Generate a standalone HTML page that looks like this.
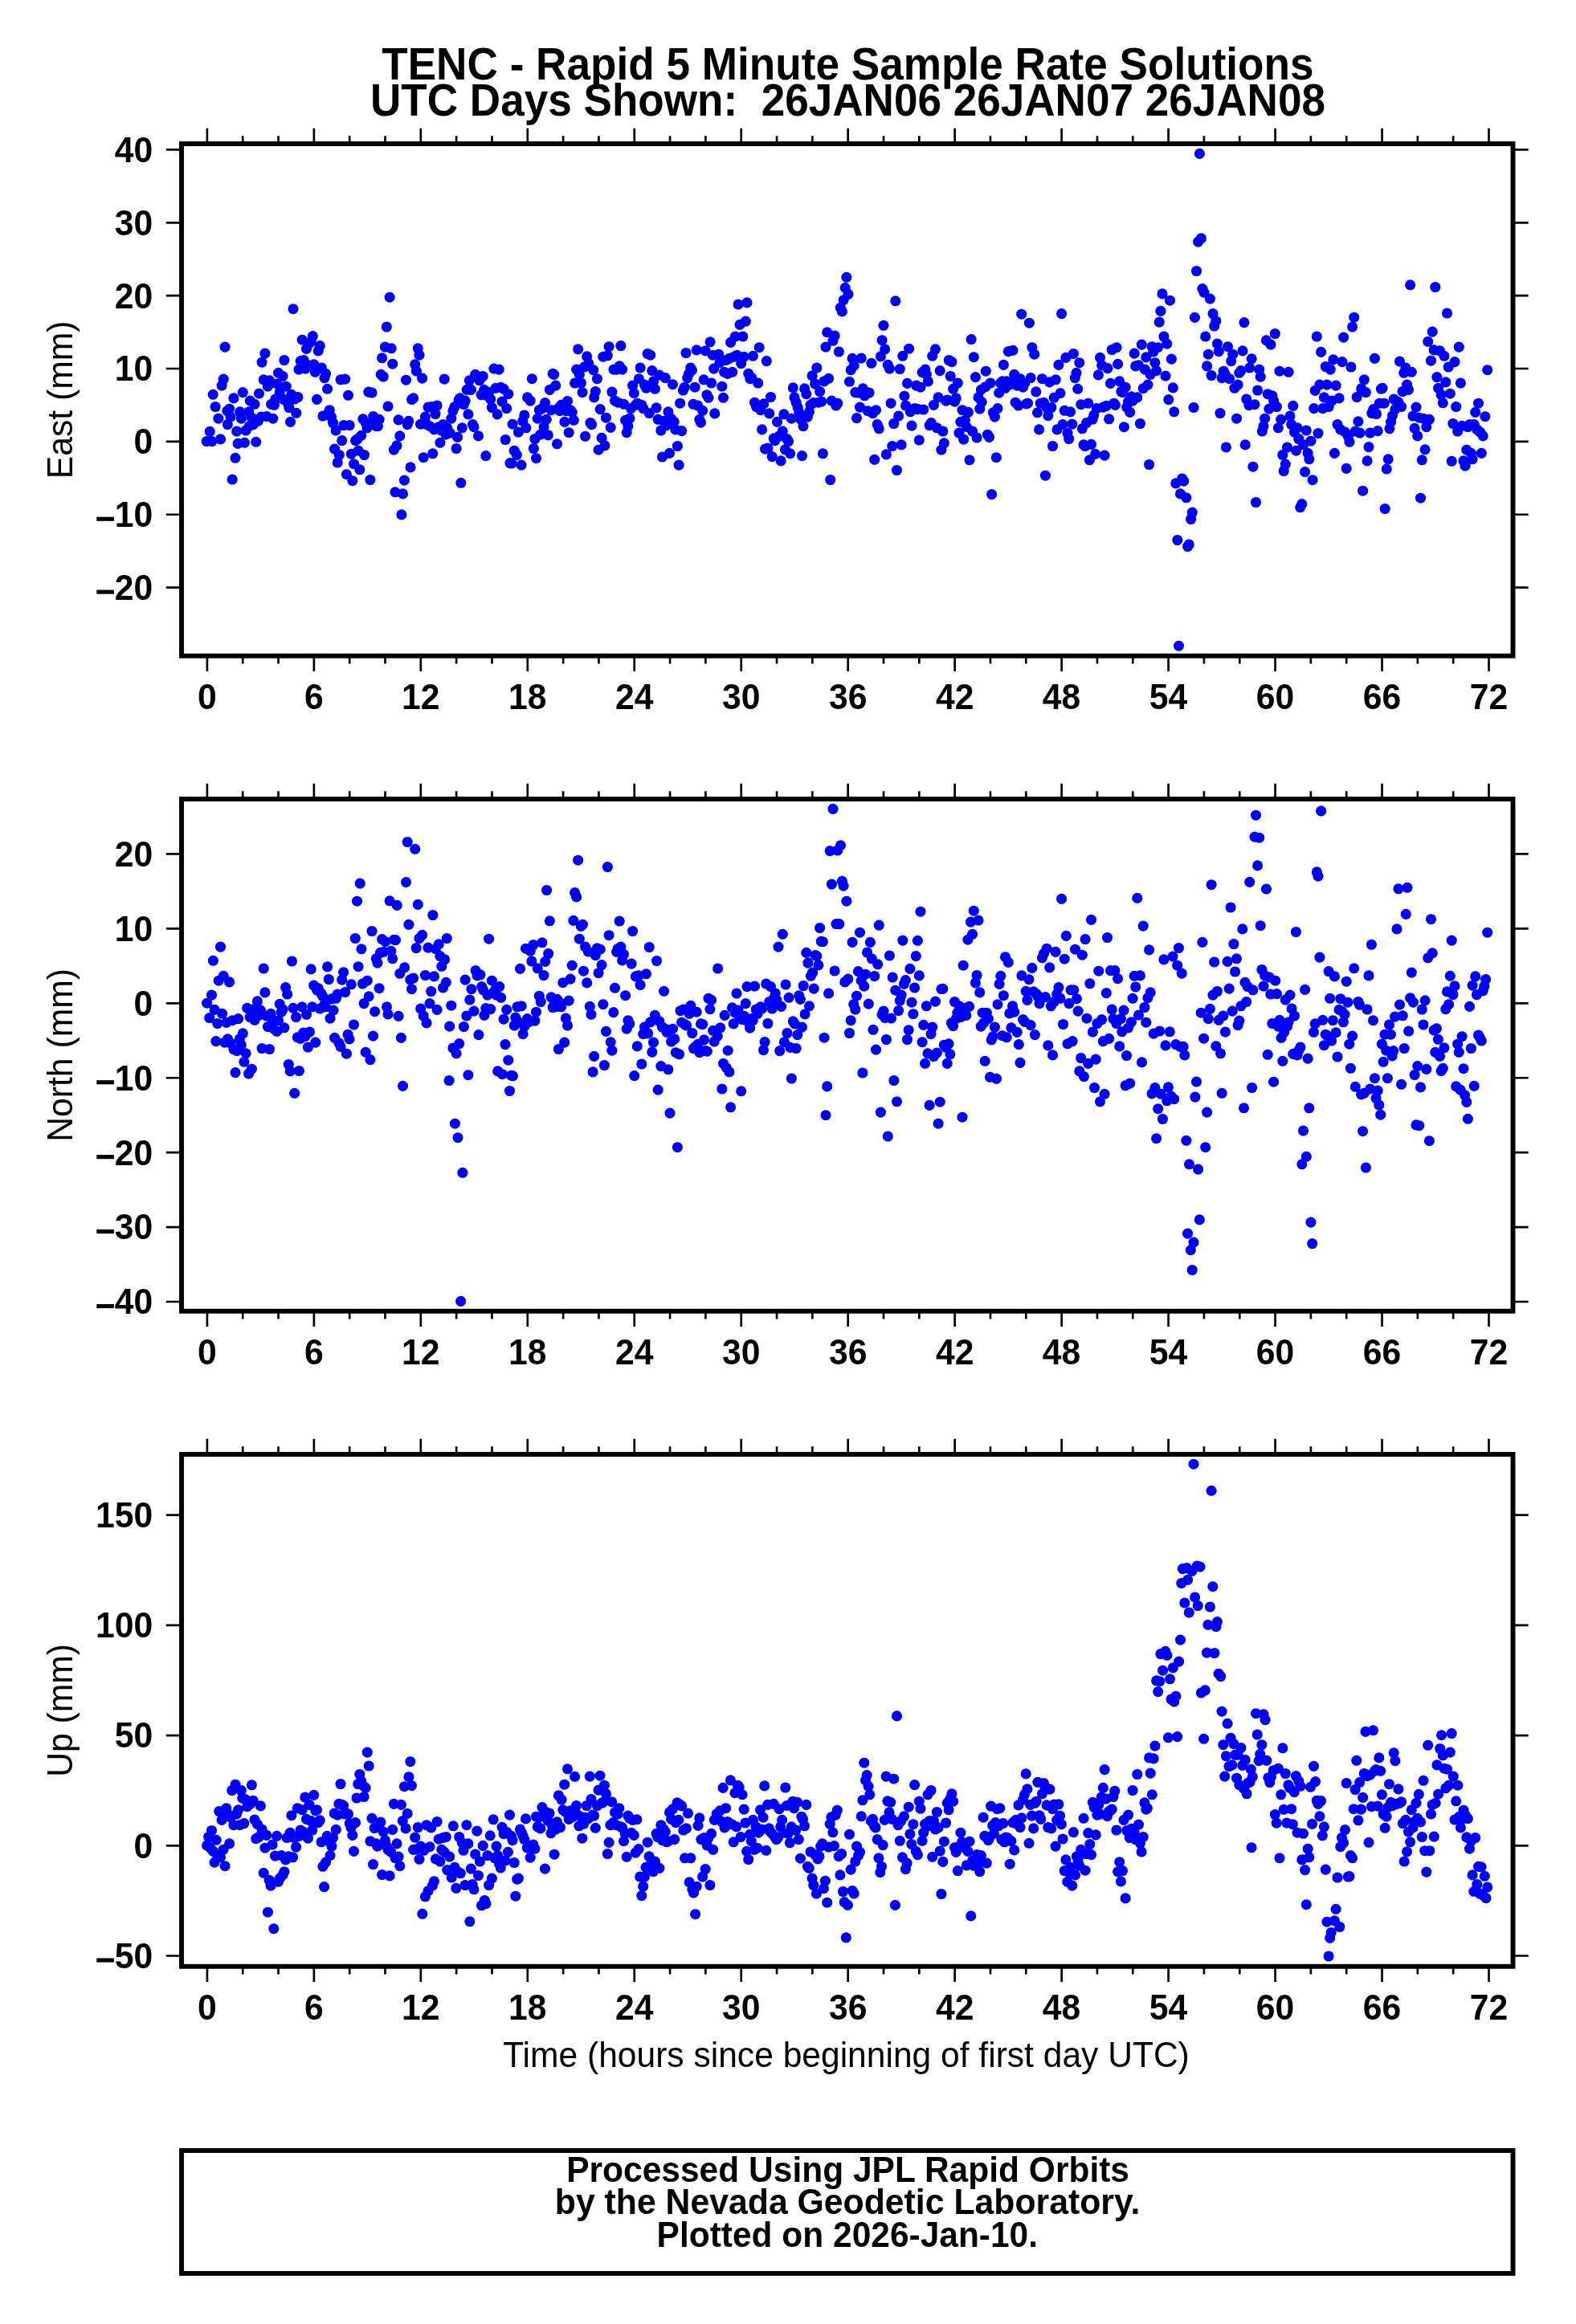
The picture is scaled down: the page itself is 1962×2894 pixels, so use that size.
<!DOCTYPE html><html><head><meta charset="utf-8"><title>TENC</title><style>html,body{margin:0;padding:0;background:#fff}svg{display:block}text{font-family:"Liberation Sans",sans-serif;fill:#000}.b{font-weight:bold}text{filter:grayscale(1)}</style></head><body>
<svg width="1962" height="2894" viewBox="0 0 1962 2894">
<rect width="1962" height="2894" fill="#fff"/>
<text class="b" text-rendering="geometricPrecision" transform="translate(1055.4 99) scale(1 1.062)" font-size="53.33" text-anchor="middle" textLength="1160.4" lengthAdjust="spacingAndGlyphs">TENC - Rapid 5 Minute Sample Rate Solutions</text>
<text class="b" text-rendering="geometricPrecision" transform="translate(1055.5 144.1) scale(1 1.062)" font-size="53.33" text-anchor="middle" textLength="1189" lengthAdjust="spacingAndGlyphs" xml:space="preserve">UTC Days Shown:  26JAN06 26JAN07 26JAN08</text>
<g fill="#0000ff">
<circle cx="257.2" cy="549.6" r="6.55"/>
<circle cx="263.9" cy="549.6" r="6.55"/>
<circle cx="261.2" cy="537.4" r="6.55"/>
<circle cx="274.5" cy="546.9" r="6.55"/>
<circle cx="265.2" cy="491.3" r="6.55"/>
<circle cx="268.1" cy="506.5" r="6.55"/>
<circle cx="271.9" cy="521.2" r="6.55"/>
<circle cx="276.1" cy="480.1" r="6.55"/>
<circle cx="278.2" cy="472.1" r="6.55"/>
<circle cx="280.1" cy="432.1" r="6.55"/>
<circle cx="282.9" cy="511.7" r="6.55"/>
<circle cx="285.6" cy="509.2" r="6.55"/>
<circle cx="287.1" cy="519.1" r="6.55"/>
<circle cx="283.3" cy="528.6" r="6.55"/>
<circle cx="289.2" cy="597.0" r="6.55"/>
<circle cx="293.0" cy="570.3" r="6.55"/>
<circle cx="294.7" cy="537.0" r="6.55"/>
<circle cx="290.9" cy="495.9" r="6.55"/>
<circle cx="296.1" cy="552.4" r="6.55"/>
<circle cx="304.4" cy="551.3" r="6.55"/>
<circle cx="298.7" cy="512.8" r="6.55"/>
<circle cx="300.4" cy="521.2" r="6.55"/>
<circle cx="302.3" cy="488.6" r="6.55"/>
<circle cx="306.1" cy="536.0" r="6.55"/>
<circle cx="309.8" cy="512.8" r="6.55"/>
<circle cx="311.3" cy="499.1" r="6.55"/>
<circle cx="317.0" cy="503.3" r="6.55"/>
<circle cx="313.4" cy="520.2" r="6.55"/>
<circle cx="310.3" cy="530.7" r="6.55"/>
<circle cx="315.5" cy="528.6" r="6.55"/>
<circle cx="318.7" cy="550.3" r="6.55"/>
<circle cx="321.2" cy="524.4" r="6.55"/>
<circle cx="322.5" cy="490.0" r="6.55"/>
<circle cx="325.0" cy="519.1" r="6.55"/>
<circle cx="326.1" cy="451.1" r="6.55"/>
<circle cx="328.2" cy="472.8" r="6.55"/>
<circle cx="329.9" cy="440.1" r="6.55"/>
<circle cx="332.0" cy="518.5" r="6.55"/>
<circle cx="333.4" cy="481.2" r="6.55"/>
<circle cx="335.5" cy="473.8" r="6.55"/>
<circle cx="337.6" cy="503.3" r="6.55"/>
<circle cx="339.8" cy="521.2" r="6.55"/>
<circle cx="341.4" cy="504.4" r="6.55"/>
<circle cx="342.9" cy="497.0" r="6.55"/>
<circle cx="345.0" cy="478.0" r="6.55"/>
<circle cx="346.5" cy="464.3" r="6.55"/>
<circle cx="348.2" cy="488.6" r="6.55"/>
<circle cx="350.3" cy="482.2" r="6.55"/>
<circle cx="352.0" cy="468.5" r="6.55"/>
<circle cx="352.4" cy="497.0" r="6.55"/>
<circle cx="353.9" cy="448.5" r="6.55"/>
<circle cx="356.2" cy="481.2" r="6.55"/>
<circle cx="357.7" cy="501.2" r="6.55"/>
<circle cx="359.8" cy="507.5" r="6.55"/>
<circle cx="361.5" cy="525.4" r="6.55"/>
<circle cx="362.9" cy="491.3" r="6.55"/>
<circle cx="365.0" cy="384.7" r="6.55"/>
<circle cx="366.7" cy="497.0" r="6.55"/>
<circle cx="368.8" cy="514.3" r="6.55"/>
<circle cx="370.9" cy="494.5" r="6.55"/>
<circle cx="372.0" cy="460.1" r="6.55"/>
<circle cx="374.1" cy="449.6" r="6.55"/>
<circle cx="376.2" cy="423.2" r="6.55"/>
<circle cx="378.1" cy="448.5" r="6.55"/>
<circle cx="380.2" cy="459.1" r="6.55"/>
<circle cx="381.5" cy="434.4" r="6.55"/>
<circle cx="383.6" cy="454.8" r="6.55"/>
<circle cx="385.0" cy="427.5" r="6.55"/>
<circle cx="387.2" cy="425.4" r="6.55"/>
<circle cx="389.3" cy="418.6" r="6.55"/>
<circle cx="390.9" cy="453.8" r="6.55"/>
<circle cx="392.4" cy="463.3" r="6.55"/>
<circle cx="394.5" cy="497.4" r="6.55"/>
<circle cx="396.2" cy="436.9" r="6.55"/>
<circle cx="398.3" cy="430.6" r="6.55"/>
<circle cx="400.4" cy="458.0" r="6.55"/>
<circle cx="401.9" cy="518.0" r="6.55"/>
<circle cx="404.0" cy="470.6" r="6.55"/>
<circle cx="405.5" cy="465.4" r="6.55"/>
<circle cx="407.6" cy="484.3" r="6.55"/>
<circle cx="408.9" cy="513.8" r="6.55"/>
<circle cx="410.3" cy="510.7" r="6.55"/>
<circle cx="412.4" cy="519.1" r="6.55"/>
<circle cx="414.5" cy="526.5" r="6.55"/>
<circle cx="416.6" cy="559.1" r="6.55"/>
<circle cx="418.1" cy="536.0" r="6.55"/>
<circle cx="420.2" cy="576.0" r="6.55"/>
<circle cx="422.3" cy="566.5" r="6.55"/>
<circle cx="424.0" cy="472.8" r="6.55"/>
<circle cx="425.7" cy="548.6" r="6.55"/>
<circle cx="427.8" cy="529.6" r="6.55"/>
<circle cx="429.7" cy="472.1" r="6.55"/>
<circle cx="431.4" cy="590.7" r="6.55"/>
<circle cx="433.5" cy="492.3" r="6.55"/>
<circle cx="435.2" cy="529.6" r="6.55"/>
<circle cx="437.3" cy="565.4" r="6.55"/>
<circle cx="438.8" cy="598.7" r="6.55"/>
<circle cx="440.5" cy="577.7" r="6.55"/>
<circle cx="442.6" cy="548.6" r="6.55"/>
<circle cx="446.1" cy="561.2" r="6.55"/>
<circle cx="445.1" cy="546.5" r="6.55"/>
<circle cx="447.8" cy="584.8" r="6.55"/>
<circle cx="449.7" cy="542.3" r="6.55"/>
<circle cx="451.8" cy="521.8" r="6.55"/>
<circle cx="453.5" cy="566.5" r="6.55"/>
<circle cx="455.2" cy="526.5" r="6.55"/>
<circle cx="457.1" cy="532.8" r="6.55"/>
<circle cx="458.8" cy="488.1" r="6.55"/>
<circle cx="460.9" cy="597.5" r="6.55"/>
<circle cx="463.0" cy="489.0" r="6.55"/>
<circle cx="464.7" cy="518.5" r="6.55"/>
<circle cx="466.8" cy="524.4" r="6.55"/>
<circle cx="468.3" cy="530.7" r="6.55"/>
<circle cx="470.4" cy="530.7" r="6.55"/>
<circle cx="472.1" cy="522.3" r="6.55"/>
<circle cx="474.2" cy="466.4" r="6.55"/>
<circle cx="475.6" cy="445.8" r="6.55"/>
<circle cx="477.3" cy="469.0" r="6.55"/>
<circle cx="479.4" cy="432.1" r="6.55"/>
<circle cx="481.3" cy="407.0" r="6.55"/>
<circle cx="483.0" cy="506.0" r="6.55"/>
<circle cx="485.1" cy="370.2" r="6.55"/>
<circle cx="487.2" cy="433.8" r="6.55"/>
<circle cx="488.7" cy="453.2" r="6.55"/>
<circle cx="490.4" cy="560.2" r="6.55"/>
<circle cx="491.9" cy="612.8" r="6.55"/>
<circle cx="494.0" cy="554.9" r="6.55"/>
<circle cx="496.1" cy="522.9" r="6.55"/>
<circle cx="497.8" cy="542.9" r="6.55"/>
<circle cx="499.9" cy="640.9" r="6.55"/>
<circle cx="501.5" cy="614.9" r="6.55"/>
<circle cx="503.4" cy="598.1" r="6.55"/>
<circle cx="505.5" cy="473.2" r="6.55"/>
<circle cx="507.2" cy="528.6" r="6.55"/>
<circle cx="508.7" cy="524.4" r="6.55"/>
<circle cx="511.0" cy="581.9" r="6.55"/>
<circle cx="512.5" cy="497.6" r="6.55"/>
<circle cx="514.6" cy="495.9" r="6.55"/>
<circle cx="516.7" cy="453.8" r="6.55"/>
<circle cx="518.4" cy="462.2" r="6.55"/>
<circle cx="520.3" cy="433.8" r="6.55"/>
<circle cx="522.0" cy="442.2" r="6.55"/>
<circle cx="523.5" cy="528.2" r="6.55"/>
<circle cx="525.6" cy="471.1" r="6.55"/>
<circle cx="527.2" cy="569.7" r="6.55"/>
<circle cx="529.4" cy="519.1" r="6.55"/>
<circle cx="531.5" cy="528.6" r="6.55"/>
<circle cx="533.1" cy="507.1" r="6.55"/>
<circle cx="535.2" cy="530.7" r="6.55"/>
<circle cx="537.4" cy="506.5" r="6.55"/>
<circle cx="538.8" cy="564.8" r="6.55"/>
<circle cx="540.5" cy="534.9" r="6.55"/>
<circle cx="542.0" cy="515.5" r="6.55"/>
<circle cx="544.1" cy="505.0" r="6.55"/>
<circle cx="546.2" cy="531.7" r="6.55"/>
<circle cx="547.9" cy="551.3" r="6.55"/>
<circle cx="549.4" cy="536.0" r="6.55"/>
<circle cx="551.5" cy="528.6" r="6.55"/>
<circle cx="553.2" cy="472.1" r="6.55"/>
<circle cx="555.1" cy="541.2" r="6.55"/>
<circle cx="556.7" cy="532.8" r="6.55"/>
<circle cx="560.1" cy="539.1" r="6.55"/>
<circle cx="561.8" cy="521.2" r="6.55"/>
<circle cx="563.9" cy="511.7" r="6.55"/>
<circle cx="566.0" cy="506.5" r="6.55"/>
<circle cx="568.1" cy="558.5" r="6.55"/>
<circle cx="569.6" cy="544.4" r="6.55"/>
<circle cx="571.1" cy="498.0" r="6.55"/>
<circle cx="572.7" cy="495.9" r="6.55"/>
<circle cx="573.8" cy="601.3" r="6.55"/>
<circle cx="575.3" cy="532.8" r="6.55"/>
<circle cx="577.4" cy="503.7" r="6.55"/>
<circle cx="579.1" cy="499.1" r="6.55"/>
<circle cx="581.2" cy="485.4" r="6.55"/>
<circle cx="582.9" cy="515.9" r="6.55"/>
<circle cx="584.3" cy="473.8" r="6.55"/>
<circle cx="586.4" cy="485.4" r="6.55"/>
<circle cx="588.5" cy="528.6" r="6.55"/>
<circle cx="590.0" cy="531.7" r="6.55"/>
<circle cx="591.7" cy="466.4" r="6.55"/>
<circle cx="593.8" cy="469.6" r="6.55"/>
<circle cx="595.5" cy="542.9" r="6.55"/>
<circle cx="597.0" cy="473.8" r="6.55"/>
<circle cx="599.1" cy="491.7" r="6.55"/>
<circle cx="601.2" cy="468.5" r="6.55"/>
<circle cx="602.7" cy="485.4" r="6.55"/>
<circle cx="604.8" cy="567.6" r="6.55"/>
<circle cx="606.5" cy="492.8" r="6.55"/>
<circle cx="608.6" cy="488.6" r="6.55"/>
<circle cx="610.7" cy="497.0" r="6.55"/>
<circle cx="612.4" cy="507.5" r="6.55"/>
<circle cx="614.9" cy="459.1" r="6.55"/>
<circle cx="617.0" cy="483.3" r="6.55"/>
<circle cx="619.1" cy="515.9" r="6.55"/>
<circle cx="621.2" cy="460.1" r="6.55"/>
<circle cx="623.3" cy="482.2" r="6.55"/>
<circle cx="625.0" cy="500.1" r="6.55"/>
<circle cx="627.1" cy="484.3" r="6.55"/>
<circle cx="629.2" cy="547.5" r="6.55"/>
<circle cx="630.7" cy="508.6" r="6.55"/>
<circle cx="632.8" cy="490.7" r="6.55"/>
<circle cx="634.9" cy="576.6" r="6.55"/>
<circle cx="638.1" cy="528.2" r="6.55"/>
<circle cx="637.0" cy="577.0" r="6.55"/>
<circle cx="640.2" cy="561.2" r="6.55"/>
<circle cx="643.3" cy="566.5" r="6.55"/>
<circle cx="645.4" cy="538.1" r="6.55"/>
<circle cx="649.0" cy="579.1" r="6.55"/>
<circle cx="650.7" cy="524.4" r="6.55"/>
<circle cx="652.8" cy="517.0" r="6.55"/>
<circle cx="654.9" cy="532.8" r="6.55"/>
<circle cx="656.6" cy="494.9" r="6.55"/>
<circle cx="660.2" cy="499.1" r="6.55"/>
<circle cx="662.3" cy="471.7" r="6.55"/>
<circle cx="664.4" cy="558.5" r="6.55"/>
<circle cx="665.9" cy="546.5" r="6.55"/>
<circle cx="667.5" cy="570.7" r="6.55"/>
<circle cx="669.2" cy="521.2" r="6.55"/>
<circle cx="671.3" cy="510.7" r="6.55"/>
<circle cx="672.8" cy="541.2" r="6.55"/>
<circle cx="674.9" cy="508.6" r="6.55"/>
<circle cx="677.0" cy="531.7" r="6.55"/>
<circle cx="678.5" cy="501.6" r="6.55"/>
<circle cx="680.2" cy="522.3" r="6.55"/>
<circle cx="682.3" cy="541.9" r="6.55"/>
<circle cx="684.4" cy="485.4" r="6.55"/>
<circle cx="686.1" cy="510.7" r="6.55"/>
<circle cx="688.2" cy="465.4" r="6.55"/>
<circle cx="689.7" cy="466.4" r="6.55"/>
<circle cx="691.8" cy="480.1" r="6.55"/>
<circle cx="693.5" cy="552.8" r="6.55"/>
<circle cx="694.9" cy="508.6" r="6.55"/>
<circle cx="697.0" cy="511.7" r="6.55"/>
<circle cx="698.7" cy="504.4" r="6.55"/>
<circle cx="700.8" cy="504.4" r="6.55"/>
<circle cx="702.9" cy="525.4" r="6.55"/>
<circle cx="704.4" cy="511.7" r="6.55"/>
<circle cx="706.5" cy="499.5" r="6.55"/>
<circle cx="708.2" cy="538.7" r="6.55"/>
<circle cx="710.1" cy="510.7" r="6.55"/>
<circle cx="712.2" cy="513.4" r="6.55"/>
<circle cx="714.3" cy="523.3" r="6.55"/>
<circle cx="715.6" cy="477.0" r="6.55"/>
<circle cx="717.7" cy="460.1" r="6.55"/>
<circle cx="719.6" cy="434.8" r="6.55"/>
<circle cx="721.3" cy="466.4" r="6.55"/>
<circle cx="723.4" cy="477.0" r="6.55"/>
<circle cx="725.1" cy="488.6" r="6.55"/>
<circle cx="727.2" cy="457.0" r="6.55"/>
<circle cx="728.6" cy="543.3" r="6.55"/>
<circle cx="730.7" cy="443.9" r="6.55"/>
<circle cx="732.8" cy="452.7" r="6.55"/>
<circle cx="735.0" cy="526.5" r="6.55"/>
<circle cx="736.6" cy="528.6" r="6.55"/>
<circle cx="738.7" cy="460.7" r="6.55"/>
<circle cx="739.6" cy="494.9" r="6.55"/>
<circle cx="741.3" cy="487.5" r="6.55"/>
<circle cx="743.4" cy="471.7" r="6.55"/>
<circle cx="745.1" cy="560.2" r="6.55"/>
<circle cx="747.2" cy="509.6" r="6.55"/>
<circle cx="749.1" cy="545.4" r="6.55"/>
<circle cx="750.8" cy="444.3" r="6.55"/>
<circle cx="752.9" cy="554.9" r="6.55"/>
<circle cx="754.5" cy="520.2" r="6.55"/>
<circle cx="756.4" cy="442.8" r="6.55"/>
<circle cx="758.1" cy="431.7" r="6.55"/>
<circle cx="760.2" cy="532.4" r="6.55"/>
<circle cx="761.9" cy="488.1" r="6.55"/>
<circle cx="764.0" cy="460.1" r="6.55"/>
<circle cx="765.5" cy="499.1" r="6.55"/>
<circle cx="767.6" cy="460.1" r="6.55"/>
<circle cx="769.3" cy="501.2" r="6.55"/>
<circle cx="771.2" cy="455.9" r="6.55"/>
<circle cx="772.9" cy="430.6" r="6.55"/>
<circle cx="774.6" cy="460.1" r="6.55"/>
<circle cx="776.7" cy="503.3" r="6.55"/>
<circle cx="778.6" cy="523.3" r="6.55"/>
<circle cx="780.2" cy="538.7" r="6.55"/>
<circle cx="781.9" cy="530.7" r="6.55"/>
<circle cx="784.0" cy="520.8" r="6.55"/>
<circle cx="785.5" cy="508.6" r="6.55"/>
<circle cx="787.6" cy="480.1" r="6.55"/>
<circle cx="789.3" cy="489.6" r="6.55"/>
<circle cx="791.4" cy="504.4" r="6.55"/>
<circle cx="793.5" cy="502.2" r="6.55"/>
<circle cx="795.4" cy="471.7" r="6.55"/>
<circle cx="797.1" cy="458.0" r="6.55"/>
<circle cx="798.8" cy="504.4" r="6.55"/>
<circle cx="800.7" cy="508.6" r="6.55"/>
<circle cx="802.4" cy="479.1" r="6.55"/>
<circle cx="804.5" cy="483.3" r="6.55"/>
<circle cx="806.2" cy="440.5" r="6.55"/>
<circle cx="808.3" cy="514.5" r="6.55"/>
<circle cx="809.7" cy="442.2" r="6.55"/>
<circle cx="811.8" cy="461.6" r="6.55"/>
<circle cx="813.5" cy="474.9" r="6.55"/>
<circle cx="815.4" cy="484.3" r="6.55"/>
<circle cx="817.1" cy="507.9" r="6.55"/>
<circle cx="819.2" cy="522.3" r="6.55"/>
<circle cx="820.9" cy="467.1" r="6.55"/>
<circle cx="822.8" cy="536.0" r="6.55"/>
<circle cx="824.5" cy="569.0" r="6.55"/>
<circle cx="826.2" cy="524.4" r="6.55"/>
<circle cx="828.3" cy="470.6" r="6.55"/>
<circle cx="829.8" cy="529.6" r="6.55"/>
<circle cx="831.9" cy="512.8" r="6.55"/>
<circle cx="833.5" cy="564.4" r="6.55"/>
<circle cx="835.4" cy="521.2" r="6.55"/>
<circle cx="837.5" cy="478.7" r="6.55"/>
<circle cx="839.2" cy="525.4" r="6.55"/>
<circle cx="840.9" cy="534.9" r="6.55"/>
<circle cx="843.4" cy="555.5" r="6.55"/>
<circle cx="845.1" cy="579.1" r="6.55"/>
<circle cx="846.6" cy="502.2" r="6.55"/>
<circle cx="848.7" cy="536.6" r="6.55"/>
<circle cx="850.4" cy="486.0" r="6.55"/>
<circle cx="852.3" cy="482.2" r="6.55"/>
<circle cx="854.0" cy="439.5" r="6.55"/>
<circle cx="855.7" cy="470.6" r="6.55"/>
<circle cx="857.6" cy="465.4" r="6.55"/>
<circle cx="859.7" cy="458.0" r="6.55"/>
<circle cx="861.4" cy="461.2" r="6.55"/>
<circle cx="863.0" cy="503.3" r="6.55"/>
<circle cx="865.1" cy="482.2" r="6.55"/>
<circle cx="867.2" cy="435.9" r="6.55"/>
<circle cx="868.7" cy="505.0" r="6.55"/>
<circle cx="870.8" cy="522.3" r="6.55"/>
<circle cx="872.5" cy="526.1" r="6.55"/>
<circle cx="874.6" cy="511.3" r="6.55"/>
<circle cx="876.1" cy="472.8" r="6.55"/>
<circle cx="878.2" cy="436.9" r="6.55"/>
<circle cx="879.9" cy="491.7" r="6.55"/>
<circle cx="882.0" cy="495.3" r="6.55"/>
<circle cx="884.1" cy="425.8" r="6.55"/>
<circle cx="885.6" cy="477.0" r="6.55"/>
<circle cx="887.3" cy="442.2" r="6.55"/>
<circle cx="888.7" cy="459.1" r="6.55"/>
<circle cx="889.8" cy="514.9" r="6.55"/>
<circle cx="894.6" cy="441.2" r="6.55"/>
<circle cx="898.8" cy="481.2" r="6.55"/>
<circle cx="900.5" cy="495.3" r="6.55"/>
<circle cx="901.6" cy="463.3" r="6.55"/>
<circle cx="903.7" cy="448.5" r="6.55"/>
<circle cx="905.8" cy="465.4" r="6.55"/>
<circle cx="907.9" cy="446.4" r="6.55"/>
<circle cx="909.6" cy="426.4" r="6.55"/>
<circle cx="911.7" cy="463.3" r="6.55"/>
<circle cx="913.6" cy="444.3" r="6.55"/>
<circle cx="915.3" cy="419.0" r="6.55"/>
<circle cx="917.4" cy="442.2" r="6.55"/>
<circle cx="919.1" cy="379.0" r="6.55"/>
<circle cx="921.0" cy="404.3" r="6.55"/>
<circle cx="922.7" cy="452.7" r="6.55"/>
<circle cx="924.8" cy="419.0" r="6.55"/>
<circle cx="926.2" cy="444.3" r="6.55"/>
<circle cx="928.3" cy="400.1" r="6.55"/>
<circle cx="930.0" cy="376.9" r="6.55"/>
<circle cx="931.7" cy="465.4" r="6.55"/>
<circle cx="933.8" cy="471.7" r="6.55"/>
<circle cx="935.9" cy="470.6" r="6.55"/>
<circle cx="937.4" cy="443.3" r="6.55"/>
<circle cx="939.5" cy="501.2" r="6.55"/>
<circle cx="941.6" cy="506.5" r="6.55"/>
<circle cx="943.7" cy="477.0" r="6.55"/>
<circle cx="945.2" cy="432.7" r="6.55"/>
<circle cx="946.9" cy="510.7" r="6.55"/>
<circle cx="948.6" cy="534.9" r="6.55"/>
<circle cx="950.7" cy="502.9" r="6.55"/>
<circle cx="952.6" cy="559.1" r="6.55"/>
<circle cx="954.3" cy="449.6" r="6.55"/>
<circle cx="955.9" cy="558.1" r="6.55"/>
<circle cx="957.8" cy="514.9" r="6.55"/>
<circle cx="959.5" cy="494.5" r="6.55"/>
<circle cx="961.2" cy="568.6" r="6.55"/>
<circle cx="963.3" cy="545.9" r="6.55"/>
<circle cx="964.8" cy="548.6" r="6.55"/>
<circle cx="967.5" cy="525.4" r="6.55"/>
<circle cx="969.6" cy="543.3" r="6.55"/>
<circle cx="972.2" cy="573.9" r="6.55"/>
<circle cx="974.3" cy="537.0" r="6.55"/>
<circle cx="975.9" cy="515.9" r="6.55"/>
<circle cx="977.4" cy="559.8" r="6.55"/>
<circle cx="979.5" cy="546.5" r="6.55"/>
<circle cx="981.6" cy="549.6" r="6.55"/>
<circle cx="983.7" cy="564.8" r="6.55"/>
<circle cx="985.2" cy="521.2" r="6.55"/>
<circle cx="987.3" cy="482.9" r="6.55"/>
<circle cx="989.0" cy="494.9" r="6.55"/>
<circle cx="991.1" cy="501.2" r="6.55"/>
<circle cx="993.2" cy="507.5" r="6.55"/>
<circle cx="994.9" cy="513.8" r="6.55"/>
<circle cx="997.0" cy="522.3" r="6.55"/>
<circle cx="998.5" cy="567.6" r="6.55"/>
<circle cx="1000.0" cy="530.7" r="6.55"/>
<circle cx="1001.6" cy="483.9" r="6.55"/>
<circle cx="1003.8" cy="490.7" r="6.55"/>
<circle cx="1005.4" cy="519.1" r="6.55"/>
<circle cx="1007.5" cy="512.8" r="6.55"/>
<circle cx="1009.0" cy="504.4" r="6.55"/>
<circle cx="1011.1" cy="467.9" r="6.55"/>
<circle cx="1012.6" cy="501.6" r="6.55"/>
<circle cx="1014.7" cy="478.0" r="6.55"/>
<circle cx="1016.8" cy="458.0" r="6.55"/>
<circle cx="1018.5" cy="501.2" r="6.55"/>
<circle cx="1020.6" cy="487.5" r="6.55"/>
<circle cx="1022.7" cy="500.1" r="6.55"/>
<circle cx="1024.4" cy="564.8" r="6.55"/>
<circle cx="1025.9" cy="474.9" r="6.55"/>
<circle cx="1028.0" cy="432.1" r="6.55"/>
<circle cx="1029.7" cy="413.8" r="6.55"/>
<circle cx="1031.6" cy="471.3" r="6.55"/>
<circle cx="1033.7" cy="597.5" r="6.55"/>
<circle cx="1035.4" cy="499.1" r="6.55"/>
<circle cx="1037.0" cy="424.3" r="6.55"/>
<circle cx="1039.1" cy="418.0" r="6.55"/>
<circle cx="1040.8" cy="505.0" r="6.55"/>
<circle cx="1042.7" cy="502.2" r="6.55"/>
<circle cx="1044.4" cy="438.0" r="6.55"/>
<circle cx="1046.3" cy="383.2" r="6.55"/>
<circle cx="1048.4" cy="387.9" r="6.55"/>
<circle cx="1050.1" cy="373.7" r="6.55"/>
<circle cx="1052.2" cy="358.4" r="6.55"/>
<circle cx="1053.9" cy="345.3" r="6.55"/>
<circle cx="1056.0" cy="366.4" r="6.55"/>
<circle cx="1057.5" cy="475.3" r="6.55"/>
<circle cx="1059.2" cy="460.7" r="6.55"/>
<circle cx="1061.1" cy="446.4" r="6.55"/>
<circle cx="1063.2" cy="455.3" r="6.55"/>
<circle cx="1064.8" cy="488.6" r="6.55"/>
<circle cx="1066.5" cy="520.6" r="6.55"/>
<circle cx="1068.6" cy="489.2" r="6.55"/>
<circle cx="1070.5" cy="507.1" r="6.55"/>
<circle cx="1072.2" cy="446.0" r="6.55"/>
<circle cx="1074.3" cy="483.9" r="6.55"/>
<circle cx="1076.4" cy="492.8" r="6.55"/>
<circle cx="1078.5" cy="488.6" r="6.55"/>
<circle cx="1080.2" cy="511.7" r="6.55"/>
<circle cx="1082.1" cy="489.0" r="6.55"/>
<circle cx="1084.9" cy="452.3" r="6.55"/>
<circle cx="1086.5" cy="514.5" r="6.55"/>
<circle cx="1088.7" cy="572.4" r="6.55"/>
<circle cx="1090.5" cy="510.7" r="6.55"/>
<circle cx="1092.2" cy="528.6" r="6.55"/>
<circle cx="1094.3" cy="533.8" r="6.55"/>
<circle cx="1096.4" cy="443.9" r="6.55"/>
<circle cx="1098.1" cy="423.7" r="6.55"/>
<circle cx="1100.0" cy="405.3" r="6.55"/>
<circle cx="1101.7" cy="434.8" r="6.55"/>
<circle cx="1103.4" cy="565.9" r="6.55"/>
<circle cx="1105.3" cy="454.4" r="6.55"/>
<circle cx="1107.4" cy="459.1" r="6.55"/>
<circle cx="1109.1" cy="502.2" r="6.55"/>
<circle cx="1110.8" cy="555.5" r="6.55"/>
<circle cx="1112.7" cy="527.5" r="6.55"/>
<circle cx="1114.8" cy="374.8" r="6.55"/>
<circle cx="1116.5" cy="585.5" r="6.55"/>
<circle cx="1118.6" cy="518.0" r="6.55"/>
<circle cx="1120.3" cy="459.5" r="6.55"/>
<circle cx="1122.1" cy="553.9" r="6.55"/>
<circle cx="1123.8" cy="443.3" r="6.55"/>
<circle cx="1125.9" cy="493.2" r="6.55"/>
<circle cx="1127.6" cy="505.0" r="6.55"/>
<circle cx="1129.5" cy="477.4" r="6.55"/>
<circle cx="1131.6" cy="434.2" r="6.55"/>
<circle cx="1133.3" cy="512.8" r="6.55"/>
<circle cx="1135.0" cy="530.1" r="6.55"/>
<circle cx="1136.9" cy="509.6" r="6.55"/>
<circle cx="1139.0" cy="508.6" r="6.55"/>
<circle cx="1140.7" cy="480.1" r="6.55"/>
<circle cx="1142.8" cy="509.6" r="6.55"/>
<circle cx="1144.3" cy="548.0" r="6.55"/>
<circle cx="1146.0" cy="482.2" r="6.55"/>
<circle cx="1148.1" cy="463.7" r="6.55"/>
<circle cx="1149.7" cy="510.0" r="6.55"/>
<circle cx="1151.9" cy="460.1" r="6.55"/>
<circle cx="1153.3" cy="466.4" r="6.55"/>
<circle cx="1155.4" cy="474.9" r="6.55"/>
<circle cx="1157.1" cy="529.6" r="6.55"/>
<circle cx="1159.2" cy="526.5" r="6.55"/>
<circle cx="1160.7" cy="443.3" r="6.55"/>
<circle cx="1162.4" cy="504.4" r="6.55"/>
<circle cx="1164.5" cy="434.8" r="6.55"/>
<circle cx="1166.4" cy="532.8" r="6.55"/>
<circle cx="1168.1" cy="494.9" r="6.55"/>
<circle cx="1170.2" cy="461.6" r="6.55"/>
<circle cx="1171.9" cy="560.2" r="6.55"/>
<circle cx="1173.8" cy="537.0" r="6.55"/>
<circle cx="1175.4" cy="551.8" r="6.55"/>
<circle cx="1177.6" cy="499.1" r="6.55"/>
<circle cx="1179.7" cy="498.0" r="6.55"/>
<circle cx="1181.3" cy="448.5" r="6.55"/>
<circle cx="1183.2" cy="468.5" r="6.55"/>
<circle cx="1184.9" cy="450.6" r="6.55"/>
<circle cx="1186.6" cy="484.3" r="6.55"/>
<circle cx="1188.5" cy="500.1" r="6.55"/>
<circle cx="1190.2" cy="495.9" r="6.55"/>
<circle cx="1192.3" cy="477.0" r="6.55"/>
<circle cx="1194.0" cy="539.1" r="6.55"/>
<circle cx="1195.9" cy="525.4" r="6.55"/>
<circle cx="1198.0" cy="510.7" r="6.55"/>
<circle cx="1199.7" cy="547.1" r="6.55"/>
<circle cx="1201.4" cy="523.3" r="6.55"/>
<circle cx="1203.3" cy="531.7" r="6.55"/>
<circle cx="1205.4" cy="513.4" r="6.55"/>
<circle cx="1207.0" cy="572.8" r="6.55"/>
<circle cx="1209.1" cy="422.6" r="6.55"/>
<circle cx="1210.6" cy="537.0" r="6.55"/>
<circle cx="1212.3" cy="444.7" r="6.55"/>
<circle cx="1214.4" cy="469.6" r="6.55"/>
<circle cx="1216.1" cy="545.0" r="6.55"/>
<circle cx="1218.0" cy="494.9" r="6.55"/>
<circle cx="1219.7" cy="509.2" r="6.55"/>
<circle cx="1221.4" cy="485.4" r="6.55"/>
<circle cx="1227.3" cy="462.2" r="6.55"/>
<circle cx="1229.4" cy="541.2" r="6.55"/>
<circle cx="1231.5" cy="544.4" r="6.55"/>
<circle cx="1233.0" cy="477.0" r="6.55"/>
<circle cx="1234.6" cy="615.6" r="6.55"/>
<circle cx="1236.3" cy="513.8" r="6.55"/>
<circle cx="1238.4" cy="519.1" r="6.55"/>
<circle cx="1240.3" cy="569.7" r="6.55"/>
<circle cx="1242.0" cy="508.6" r="6.55"/>
<circle cx="1243.7" cy="489.2" r="6.55"/>
<circle cx="1245.6" cy="477.0" r="6.55"/>
<circle cx="1247.7" cy="474.9" r="6.55"/>
<circle cx="1249.4" cy="454.4" r="6.55"/>
<circle cx="1251.5" cy="483.3" r="6.55"/>
<circle cx="1253.2" cy="474.9" r="6.55"/>
<circle cx="1255.3" cy="437.6" r="6.55"/>
<circle cx="1256.8" cy="479.1" r="6.55"/>
<circle cx="1258.9" cy="475.9" r="6.55"/>
<circle cx="1261.0" cy="436.3" r="6.55"/>
<circle cx="1262.7" cy="466.4" r="6.55"/>
<circle cx="1264.1" cy="501.2" r="6.55"/>
<circle cx="1266.2" cy="480.1" r="6.55"/>
<circle cx="1267.9" cy="505.0" r="6.55"/>
<circle cx="1270.0" cy="471.7" r="6.55"/>
<circle cx="1271.7" cy="391.2" r="6.55"/>
<circle cx="1273.6" cy="482.2" r="6.55"/>
<circle cx="1275.7" cy="477.0" r="6.55"/>
<circle cx="1277.8" cy="502.9" r="6.55"/>
<circle cx="1279.5" cy="502.2" r="6.55"/>
<circle cx="1281.4" cy="402.2" r="6.55"/>
<circle cx="1283.1" cy="470.6" r="6.55"/>
<circle cx="1284.8" cy="432.7" r="6.55"/>
<circle cx="1287.7" cy="441.2" r="6.55"/>
<circle cx="1289.8" cy="487.9" r="6.55"/>
<circle cx="1291.5" cy="513.8" r="6.55"/>
<circle cx="1293.6" cy="534.9" r="6.55"/>
<circle cx="1295.3" cy="502.2" r="6.55"/>
<circle cx="1297.4" cy="471.7" r="6.55"/>
<circle cx="1299.3" cy="501.2" r="6.55"/>
<circle cx="1301.4" cy="592.2" r="6.55"/>
<circle cx="1303.1" cy="507.5" r="6.55"/>
<circle cx="1304.8" cy="517.6" r="6.55"/>
<circle cx="1306.7" cy="475.9" r="6.55"/>
<circle cx="1308.8" cy="507.5" r="6.55"/>
<circle cx="1310.5" cy="555.5" r="6.55"/>
<circle cx="1312.2" cy="495.3" r="6.55"/>
<circle cx="1314.3" cy="472.8" r="6.55"/>
<circle cx="1316.0" cy="534.9" r="6.55"/>
<circle cx="1317.9" cy="454.4" r="6.55"/>
<circle cx="1320.0" cy="489.6" r="6.55"/>
<circle cx="1321.6" cy="390.6" r="6.55"/>
<circle cx="1323.1" cy="528.6" r="6.55"/>
<circle cx="1325.2" cy="511.3" r="6.55"/>
<circle cx="1326.9" cy="445.4" r="6.55"/>
<circle cx="1329.0" cy="539.5" r="6.55"/>
<circle cx="1330.7" cy="546.5" r="6.55"/>
<circle cx="1332.6" cy="512.8" r="6.55"/>
<circle cx="1334.7" cy="528.2" r="6.55"/>
<circle cx="1336.4" cy="440.5" r="6.55"/>
<circle cx="1338.3" cy="470.6" r="6.55"/>
<circle cx="1340.0" cy="464.3" r="6.55"/>
<circle cx="1341.7" cy="484.3" r="6.55"/>
<circle cx="1343.8" cy="451.7" r="6.55"/>
<circle cx="1345.7" cy="503.7" r="6.55"/>
<circle cx="1347.3" cy="533.8" r="6.55"/>
<circle cx="1349.0" cy="553.9" r="6.55"/>
<circle cx="1350.9" cy="555.5" r="6.55"/>
<circle cx="1352.6" cy="526.5" r="6.55"/>
<circle cx="1354.7" cy="502.2" r="6.55"/>
<circle cx="1356.4" cy="572.8" r="6.55"/>
<circle cx="1358.5" cy="553.4" r="6.55"/>
<circle cx="1360.0" cy="522.3" r="6.55"/>
<circle cx="1361.7" cy="517.0" r="6.55"/>
<circle cx="1363.6" cy="565.4" r="6.55"/>
<circle cx="1365.2" cy="508.6" r="6.55"/>
<circle cx="1367.4" cy="466.9" r="6.55"/>
<circle cx="1369.5" cy="445.4" r="6.55"/>
<circle cx="1371.6" cy="454.8" r="6.55"/>
<circle cx="1373.3" cy="507.1" r="6.55"/>
<circle cx="1375.1" cy="567.1" r="6.55"/>
<circle cx="1377.3" cy="505.4" r="6.55"/>
<circle cx="1378.9" cy="458.6" r="6.55"/>
<circle cx="1380.6" cy="521.8" r="6.55"/>
<circle cx="1382.5" cy="477.4" r="6.55"/>
<circle cx="1384.2" cy="435.5" r="6.55"/>
<circle cx="1386.7" cy="502.2" r="6.55"/>
<circle cx="1388.4" cy="504.4" r="6.55"/>
<circle cx="1390.1" cy="432.7" r="6.55"/>
<circle cx="1391.6" cy="453.4" r="6.55"/>
<circle cx="1393.7" cy="474.9" r="6.55"/>
<circle cx="1395.8" cy="487.5" r="6.55"/>
<circle cx="1397.5" cy="488.6" r="6.55"/>
<circle cx="1399.4" cy="531.7" r="6.55"/>
<circle cx="1401.1" cy="482.2" r="6.55"/>
<circle cx="1402.7" cy="507.1" r="6.55"/>
<circle cx="1404.6" cy="500.1" r="6.55"/>
<circle cx="1406.7" cy="513.4" r="6.55"/>
<circle cx="1408.4" cy="493.8" r="6.55"/>
<circle cx="1410.1" cy="499.1" r="6.55"/>
<circle cx="1412.2" cy="440.1" r="6.55"/>
<circle cx="1413.7" cy="455.9" r="6.55"/>
<circle cx="1415.8" cy="494.9" r="6.55"/>
<circle cx="1417.5" cy="454.8" r="6.55"/>
<circle cx="1419.4" cy="527.5" r="6.55"/>
<circle cx="1421.3" cy="429.1" r="6.55"/>
<circle cx="1423.2" cy="483.7" r="6.55"/>
<circle cx="1425.3" cy="460.1" r="6.55"/>
<circle cx="1426.8" cy="444.9" r="6.55"/>
<circle cx="1428.9" cy="479.1" r="6.55"/>
<circle cx="1430.6" cy="578.5" r="6.55"/>
<circle cx="1432.2" cy="466.4" r="6.55"/>
<circle cx="1434.1" cy="431.7" r="6.55"/>
<circle cx="1435.8" cy="438.0" r="6.55"/>
<circle cx="1437.9" cy="451.7" r="6.55"/>
<circle cx="1439.6" cy="461.6" r="6.55"/>
<circle cx="1441.5" cy="432.7" r="6.55"/>
<circle cx="1443.2" cy="401.1" r="6.55"/>
<circle cx="1444.9" cy="387.4" r="6.55"/>
<circle cx="1447.0" cy="365.9" r="6.55"/>
<circle cx="1448.9" cy="419.0" r="6.55"/>
<circle cx="1451.0" cy="468.1" r="6.55"/>
<circle cx="1452.7" cy="428.1" r="6.55"/>
<circle cx="1454.8" cy="497.6" r="6.55"/>
<circle cx="1456.5" cy="374.2" r="6.55"/>
<circle cx="1458.4" cy="447.1" r="6.55"/>
<circle cx="1460.3" cy="482.9" r="6.55"/>
<circle cx="1461.7" cy="512.8" r="6.55"/>
<circle cx="1463.8" cy="601.9" r="6.55"/>
<circle cx="1469.5" cy="614.9" r="6.55"/>
<circle cx="1471.6" cy="596.0" r="6.55"/>
<circle cx="1473.7" cy="599.1" r="6.55"/>
<circle cx="1476.9" cy="619.8" r="6.55"/>
<circle cx="1482.6" cy="646.5" r="6.55"/>
<circle cx="1484.3" cy="638.1" r="6.55"/>
<circle cx="1486.0" cy="507.5" r="6.55"/>
<circle cx="1487.4" cy="395.4" r="6.55"/>
<circle cx="1489.5" cy="337.5" r="6.55"/>
<circle cx="1491.6" cy="301.1" r="6.55"/>
<circle cx="1495.4" cy="296.9" r="6.55"/>
<circle cx="1496.9" cy="359.6" r="6.55"/>
<circle cx="1499.0" cy="364.3" r="6.55"/>
<circle cx="1500.7" cy="419.0" r="6.55"/>
<circle cx="1502.6" cy="455.9" r="6.55"/>
<circle cx="1504.3" cy="441.2" r="6.55"/>
<circle cx="1506.4" cy="372.1" r="6.55"/>
<circle cx="1508.1" cy="467.5" r="6.55"/>
<circle cx="1510.0" cy="390.6" r="6.55"/>
<circle cx="1511.7" cy="406.0" r="6.55"/>
<circle cx="1513.8" cy="399.7" r="6.55"/>
<circle cx="1515.4" cy="428.1" r="6.55"/>
<circle cx="1517.3" cy="437.6" r="6.55"/>
<circle cx="1519.0" cy="514.5" r="6.55"/>
<circle cx="1521.1" cy="470.6" r="6.55"/>
<circle cx="1523.2" cy="462.2" r="6.55"/>
<circle cx="1525.4" cy="466.4" r="6.55"/>
<circle cx="1526.4" cy="557.0" r="6.55"/>
<circle cx="1528.5" cy="431.7" r="6.55"/>
<circle cx="1530.6" cy="471.7" r="6.55"/>
<circle cx="1532.7" cy="449.6" r="6.55"/>
<circle cx="1534.8" cy="441.2" r="6.55"/>
<circle cx="1536.9" cy="483.3" r="6.55"/>
<circle cx="1539.5" cy="521.2" r="6.55"/>
<circle cx="1541.1" cy="479.1" r="6.55"/>
<circle cx="1542.8" cy="464.3" r="6.55"/>
<circle cx="1544.9" cy="461.6" r="6.55"/>
<circle cx="1547.0" cy="436.9" r="6.55"/>
<circle cx="1548.9" cy="401.6" r="6.55"/>
<circle cx="1550.2" cy="553.9" r="6.55"/>
<circle cx="1551.7" cy="497.0" r="6.55"/>
<circle cx="1555.7" cy="458.0" r="6.55"/>
<circle cx="1558.2" cy="446.8" r="6.55"/>
<circle cx="1559.9" cy="581.2" r="6.55"/>
<circle cx="1562.0" cy="503.7" r="6.55"/>
<circle cx="1563.5" cy="625.5" r="6.55"/>
<circle cx="1565.6" cy="486.0" r="6.55"/>
<circle cx="1567.7" cy="460.1" r="6.55"/>
<circle cx="1569.2" cy="469.2" r="6.55"/>
<circle cx="1571.3" cy="537.0" r="6.55"/>
<circle cx="1573.0" cy="530.7" r="6.55"/>
<circle cx="1574.6" cy="521.2" r="6.55"/>
<circle cx="1576.5" cy="423.9" r="6.55"/>
<circle cx="1578.2" cy="490.7" r="6.55"/>
<circle cx="1579.9" cy="509.2" r="6.55"/>
<circle cx="1582.0" cy="429.1" r="6.55"/>
<circle cx="1583.9" cy="492.8" r="6.55"/>
<circle cx="1585.6" cy="499.1" r="6.55"/>
<circle cx="1587.3" cy="415.5" r="6.55"/>
<circle cx="1589.4" cy="506.5" r="6.55"/>
<circle cx="1591.3" cy="532.8" r="6.55"/>
<circle cx="1593.0" cy="462.2" r="6.55"/>
<circle cx="1594.7" cy="522.3" r="6.55"/>
<circle cx="1596.8" cy="566.5" r="6.55"/>
<circle cx="1598.2" cy="586.5" r="6.55"/>
<circle cx="1600.3" cy="578.1" r="6.55"/>
<circle cx="1602.5" cy="557.0" r="6.55"/>
<circle cx="1604.1" cy="463.3" r="6.55"/>
<circle cx="1606.0" cy="518.0" r="6.55"/>
<circle cx="1607.7" cy="528.6" r="6.55"/>
<circle cx="1609.8" cy="505.4" r="6.55"/>
<circle cx="1611.5" cy="538.1" r="6.55"/>
<circle cx="1613.6" cy="561.2" r="6.55"/>
<circle cx="1615.1" cy="532.8" r="6.55"/>
<circle cx="1616.8" cy="546.5" r="6.55"/>
<circle cx="1618.7" cy="631.8" r="6.55"/>
<circle cx="1620.8" cy="627.6" r="6.55"/>
<circle cx="1622.5" cy="553.9" r="6.55"/>
<circle cx="1624.6" cy="587.6" r="6.55"/>
<circle cx="1626.3" cy="536.0" r="6.55"/>
<circle cx="1628.2" cy="564.4" r="6.55"/>
<circle cx="1629.8" cy="571.8" r="6.55"/>
<circle cx="1631.9" cy="549.2" r="6.55"/>
<circle cx="1634.1" cy="597.7" r="6.55"/>
<circle cx="1635.7" cy="508.6" r="6.55"/>
<circle cx="1637.2" cy="486.4" r="6.55"/>
<circle cx="1639.3" cy="419.0" r="6.55"/>
<circle cx="1641.0" cy="539.5" r="6.55"/>
<circle cx="1642.9" cy="479.1" r="6.55"/>
<circle cx="1644.6" cy="438.4" r="6.55"/>
<circle cx="1646.7" cy="508.6" r="6.55"/>
<circle cx="1648.4" cy="494.9" r="6.55"/>
<circle cx="1650.3" cy="456.5" r="6.55"/>
<circle cx="1652.0" cy="479.1" r="6.55"/>
<circle cx="1654.1" cy="506.5" r="6.55"/>
<circle cx="1656.2" cy="460.1" r="6.55"/>
<circle cx="1657.9" cy="499.1" r="6.55"/>
<circle cx="1659.8" cy="447.9" r="6.55"/>
<circle cx="1661.4" cy="564.4" r="6.55"/>
<circle cx="1663.1" cy="480.1" r="6.55"/>
<circle cx="1665.0" cy="528.6" r="6.55"/>
<circle cx="1667.1" cy="495.9" r="6.55"/>
<circle cx="1668.8" cy="534.9" r="6.55"/>
<circle cx="1670.9" cy="450.6" r="6.55"/>
<circle cx="1672.6" cy="420.1" r="6.55"/>
<circle cx="1674.5" cy="538.1" r="6.55"/>
<circle cx="1676.2" cy="583.4" r="6.55"/>
<circle cx="1678.3" cy="543.3" r="6.55"/>
<circle cx="1680.0" cy="550.3" r="6.55"/>
<circle cx="1681.9" cy="457.0" r="6.55"/>
<circle cx="1683.6" cy="407.0" r="6.55"/>
<circle cx="1685.7" cy="395.2" r="6.55"/>
<circle cx="1687.3" cy="537.0" r="6.55"/>
<circle cx="1689.2" cy="494.5" r="6.55"/>
<circle cx="1690.9" cy="524.8" r="6.55"/>
<circle cx="1693.0" cy="539.1" r="6.55"/>
<circle cx="1694.7" cy="483.9" r="6.55"/>
<circle cx="1696.6" cy="611.2" r="6.55"/>
<circle cx="1698.3" cy="472.8" r="6.55"/>
<circle cx="1700.4" cy="488.6" r="6.55"/>
<circle cx="1702.1" cy="573.9" r="6.55"/>
<circle cx="1704.0" cy="556.6" r="6.55"/>
<circle cx="1705.7" cy="539.1" r="6.55"/>
<circle cx="1707.8" cy="514.5" r="6.55"/>
<circle cx="1709.9" cy="509.6" r="6.55"/>
<circle cx="1711.4" cy="446.4" r="6.55"/>
<circle cx="1713.5" cy="515.5" r="6.55"/>
<circle cx="1715.2" cy="536.6" r="6.55"/>
<circle cx="1717.3" cy="502.2" r="6.55"/>
<circle cx="1719.4" cy="484.3" r="6.55"/>
<circle cx="1721.1" cy="483.3" r="6.55"/>
<circle cx="1723.2" cy="502.2" r="6.55"/>
<circle cx="1724.2" cy="633.5" r="6.55"/>
<circle cx="1726.3" cy="584.0" r="6.55"/>
<circle cx="1728.2" cy="571.8" r="6.55"/>
<circle cx="1729.9" cy="533.8" r="6.55"/>
<circle cx="1731.6" cy="525.4" r="6.55"/>
<circle cx="1733.5" cy="517.6" r="6.55"/>
<circle cx="1735.2" cy="497.0" r="6.55"/>
<circle cx="1736.9" cy="509.6" r="6.55"/>
<circle cx="1739.0" cy="500.1" r="6.55"/>
<circle cx="1740.9" cy="500.8" r="6.55"/>
<circle cx="1742.5" cy="450.0" r="6.55"/>
<circle cx="1744.6" cy="506.5" r="6.55"/>
<circle cx="1746.1" cy="487.5" r="6.55"/>
<circle cx="1747.8" cy="464.3" r="6.55"/>
<circle cx="1749.9" cy="458.0" r="6.55"/>
<circle cx="1751.6" cy="479.1" r="6.55"/>
<circle cx="1753.5" cy="485.4" r="6.55"/>
<circle cx="1755.6" cy="354.8" r="6.55"/>
<circle cx="1757.3" cy="463.3" r="6.55"/>
<circle cx="1759.0" cy="518.0" r="6.55"/>
<circle cx="1761.1" cy="533.4" r="6.55"/>
<circle cx="1763.0" cy="507.1" r="6.55"/>
<circle cx="1764.7" cy="542.9" r="6.55"/>
<circle cx="1766.8" cy="520.2" r="6.55"/>
<circle cx="1768.5" cy="620.2" r="6.55"/>
<circle cx="1770.3" cy="572.8" r="6.55"/>
<circle cx="1772.0" cy="521.2" r="6.55"/>
<circle cx="1774.1" cy="559.8" r="6.55"/>
<circle cx="1775.8" cy="531.7" r="6.55"/>
<circle cx="1777.7" cy="425.4" r="6.55"/>
<circle cx="1779.4" cy="522.3" r="6.55"/>
<circle cx="1781.5" cy="449.2" r="6.55"/>
<circle cx="1783.2" cy="413.1" r="6.55"/>
<circle cx="1785.1" cy="435.9" r="6.55"/>
<circle cx="1786.8" cy="357.5" r="6.55"/>
<circle cx="1788.9" cy="469.6" r="6.55"/>
<circle cx="1790.6" cy="483.3" r="6.55"/>
<circle cx="1792.5" cy="436.9" r="6.55"/>
<circle cx="1794.2" cy="491.7" r="6.55"/>
<circle cx="1796.3" cy="501.8" r="6.55"/>
<circle cx="1797.9" cy="443.3" r="6.55"/>
<circle cx="1799.8" cy="475.9" r="6.55"/>
<circle cx="1801.5" cy="390.0" r="6.55"/>
<circle cx="1803.2" cy="457.0" r="6.55"/>
<circle cx="1805.3" cy="490.2" r="6.55"/>
<circle cx="1807.2" cy="574.3" r="6.55"/>
<circle cx="1808.9" cy="527.5" r="6.55"/>
<circle cx="1811.0" cy="450.6" r="6.55"/>
<circle cx="1812.7" cy="506.5" r="6.55"/>
<circle cx="1814.6" cy="537.0" r="6.55"/>
<circle cx="1816.3" cy="432.1" r="6.55"/>
<circle cx="1818.4" cy="477.0" r="6.55"/>
<circle cx="1820.1" cy="530.3" r="6.55"/>
<circle cx="1822.0" cy="573.9" r="6.55"/>
<circle cx="1824.1" cy="580.2" r="6.55"/>
<circle cx="1825.8" cy="560.2" r="6.55"/>
<circle cx="1827.4" cy="531.7" r="6.55"/>
<circle cx="1829.5" cy="528.6" r="6.55"/>
<circle cx="1831.4" cy="564.4" r="6.55"/>
<circle cx="1833.1" cy="571.8" r="6.55"/>
<circle cx="1835.2" cy="528.6" r="6.55"/>
<circle cx="1836.7" cy="513.4" r="6.55"/>
<circle cx="1838.8" cy="534.9" r="6.55"/>
<circle cx="1840.5" cy="502.2" r="6.55"/>
<circle cx="1842.6" cy="538.1" r="6.55"/>
<circle cx="1844.3" cy="564.4" r="6.55"/>
<circle cx="1846.2" cy="542.9" r="6.55"/>
<circle cx="1848.9" cy="518.7" r="6.55"/>
<circle cx="1851.7" cy="460.7" r="6.55"/>
<circle cx="1465.8" cy="672.5" r="6.55"/>
<circle cx="1480.2" cy="678.0" r="6.55"/>
<circle cx="1478.6" cy="680.5" r="6.55"/>
<circle cx="1467.5" cy="804.3" r="6.55"/>
<circle cx="1493.4" cy="191.4" r="6.55"/>
<circle cx="895.9" cy="451.6" r="6.55"/>
<circle cx="1226.9" cy="481.7" r="6.55"/>
<circle cx="1222.2" cy="500.7" r="6.55"/>
<circle cx="1554.8" cy="504.7" r="6.55"/>
</g>
<g stroke="#000" stroke-width="2.67" stroke-linecap="butt">
<path d="M257.90 179.0V159.80M257.90 816.75V835.95"/>
<path d="M302.22 179.0V169.20M302.22 816.75V826.55"/>
<path d="M346.54 179.0V169.20M346.54 816.75V826.55"/>
<path d="M390.87 179.0V159.80M390.87 816.75V835.95"/>
<path d="M435.19 179.0V169.20M435.19 816.75V826.55"/>
<path d="M479.51 179.0V169.20M479.51 816.75V826.55"/>
<path d="M523.83 179.0V159.80M523.83 816.75V835.95"/>
<path d="M568.15 179.0V169.20M568.15 816.75V826.55"/>
<path d="M612.48 179.0V169.20M612.48 816.75V826.55"/>
<path d="M656.80 179.0V159.80M656.80 816.75V835.95"/>
<path d="M701.12 179.0V169.20M701.12 816.75V826.55"/>
<path d="M745.44 179.0V169.20M745.44 816.75V826.55"/>
<path d="M789.76 179.0V159.80M789.76 816.75V835.95"/>
<path d="M834.09 179.0V169.20M834.09 816.75V826.55"/>
<path d="M878.41 179.0V169.20M878.41 816.75V826.55"/>
<path d="M922.73 179.0V159.80M922.73 816.75V835.95"/>
<path d="M967.05 179.0V169.20M967.05 816.75V826.55"/>
<path d="M1011.37 179.0V169.20M1011.37 816.75V826.55"/>
<path d="M1055.70 179.0V159.80M1055.70 816.75V835.95"/>
<path d="M1100.02 179.0V169.20M1100.02 816.75V826.55"/>
<path d="M1144.34 179.0V169.20M1144.34 816.75V826.55"/>
<path d="M1188.66 179.0V159.80M1188.66 816.75V835.95"/>
<path d="M1232.98 179.0V169.20M1232.98 816.75V826.55"/>
<path d="M1277.31 179.0V169.20M1277.31 816.75V826.55"/>
<path d="M1321.63 179.0V159.80M1321.63 816.75V835.95"/>
<path d="M1365.95 179.0V169.20M1365.95 816.75V826.55"/>
<path d="M1410.27 179.0V169.20M1410.27 816.75V826.55"/>
<path d="M1454.59 179.0V159.80M1454.59 816.75V835.95"/>
<path d="M1498.92 179.0V169.20M1498.92 816.75V826.55"/>
<path d="M1543.24 179.0V169.20M1543.24 816.75V826.55"/>
<path d="M1587.56 179.0V159.80M1587.56 816.75V835.95"/>
<path d="M1631.88 179.0V169.20M1631.88 816.75V826.55"/>
<path d="M1676.20 179.0V169.20M1676.20 816.75V826.55"/>
<path d="M1720.53 179.0V159.80M1720.53 816.75V835.95"/>
<path d="M1764.85 179.0V169.20M1764.85 816.75V826.55"/>
<path d="M1809.17 179.0V169.20M1809.17 816.75V826.55"/>
<path d="M1853.49 179.0V159.80M1853.49 816.75V835.95"/>
<path d="M226.0 186.42H206.80M1883.5 186.42H1902.70"/>
<path d="M226.0 277.29H206.80M1883.5 277.29H1902.70"/>
<path d="M226.0 368.16H206.80M1883.5 368.16H1902.70"/>
<path d="M226.0 459.03H206.80M1883.5 459.03H1902.70"/>
<path d="M226.0 549.90H206.80M1883.5 549.90H1902.70"/>
<path d="M226.0 640.77H206.80M1883.5 640.77H1902.70"/>
<path d="M226.0 731.64H206.80M1883.5 731.64H1902.70"/>
</g>
<rect x="226.0" y="179.0" width="1657.5" height="637.75" fill="none" stroke="#000" stroke-width="5.9"/>
<text class="b" font-size="42.67" text-anchor="middle" transform="translate(257.9 883.0) scale(1 1.05)">0</text>
<text class="b" font-size="42.67" text-anchor="middle" transform="translate(390.9 883.0) scale(1 1.05)">6</text>
<text class="b" font-size="42.67" text-anchor="middle" transform="translate(523.8 883.0) scale(1 1.05)">12</text>
<text class="b" font-size="42.67" text-anchor="middle" transform="translate(656.8 883.0) scale(1 1.05)">18</text>
<text class="b" font-size="42.67" text-anchor="middle" transform="translate(789.8 883.0) scale(1 1.05)">24</text>
<text class="b" font-size="42.67" text-anchor="middle" transform="translate(922.7 883.0) scale(1 1.05)">30</text>
<text class="b" font-size="42.67" text-anchor="middle" transform="translate(1055.7 883.0) scale(1 1.05)">36</text>
<text class="b" font-size="42.67" text-anchor="middle" transform="translate(1188.7 883.0) scale(1 1.05)">42</text>
<text class="b" font-size="42.67" text-anchor="middle" transform="translate(1321.6 883.0) scale(1 1.05)">48</text>
<text class="b" font-size="42.67" text-anchor="middle" transform="translate(1454.6 883.0) scale(1 1.05)">54</text>
<text class="b" font-size="42.67" text-anchor="middle" transform="translate(1587.6 883.0) scale(1 1.05)">60</text>
<text class="b" font-size="42.67" text-anchor="middle" transform="translate(1720.5 883.0) scale(1 1.05)">66</text>
<text class="b" font-size="42.67" text-anchor="middle" transform="translate(1853.5 883.0) scale(1 1.05)">72</text>
<text class="b" font-size="42.67" text-anchor="end" transform="translate(190.3 201.7) scale(1 1.05)">40</text>
<text class="b" font-size="42.67" text-anchor="end" transform="translate(190.3 292.6) scale(1 1.05)">30</text>
<text class="b" font-size="42.67" text-anchor="end" transform="translate(190.3 383.5) scale(1 1.05)">20</text>
<text class="b" font-size="42.67" text-anchor="end" transform="translate(190.3 474.3) scale(1 1.05)">10</text>
<text class="b" font-size="42.67" text-anchor="end" transform="translate(190.3 565.2) scale(1 1.05)">0</text>
<rect x="120.3" y="643.72" width="21.6" height="5.1" fill="#000"/>
<text class="b" font-size="42.67" text-anchor="end" transform="translate(190.3 656.1) scale(1 1.05)">10</text>
<rect x="120.3" y="734.59" width="21.6" height="5.1" fill="#000"/>
<text class="b" font-size="42.67" text-anchor="end" transform="translate(190.3 746.9) scale(1 1.05)">20</text>
<text font-size="42.67" text-anchor="middle" transform="translate(89.9 497.9) rotate(-90) scale(1 1.05)">East (mm)</text>
<g fill="#0000ff">
<circle cx="257.6" cy="1249.2" r="6.55"/>
<circle cx="260.8" cy="1267.5" r="6.55"/>
<circle cx="263.5" cy="1239.1" r="6.55"/>
<circle cx="265.4" cy="1196.3" r="6.55"/>
<circle cx="267.1" cy="1257.4" r="6.55"/>
<circle cx="268.8" cy="1296.6" r="6.55"/>
<circle cx="270.7" cy="1274.5" r="6.55"/>
<circle cx="272.3" cy="1221.2" r="6.55"/>
<circle cx="274.5" cy="1179.1" r="6.55"/>
<circle cx="276.6" cy="1262.3" r="6.55"/>
<circle cx="278.2" cy="1215.3" r="6.55"/>
<circle cx="279.7" cy="1298.1" r="6.55"/>
<circle cx="281.8" cy="1273.4" r="6.55"/>
<circle cx="283.5" cy="1293.9" r="6.55"/>
<circle cx="285.6" cy="1222.9" r="6.55"/>
<circle cx="287.1" cy="1299.1" r="6.55"/>
<circle cx="289.2" cy="1270.7" r="6.55"/>
<circle cx="290.9" cy="1306.5" r="6.55"/>
<circle cx="293.0" cy="1335.6" r="6.55"/>
<circle cx="294.9" cy="1308.6" r="6.55"/>
<circle cx="296.6" cy="1268.6" r="6.55"/>
<circle cx="298.3" cy="1293.9" r="6.55"/>
<circle cx="300.2" cy="1301.2" r="6.55"/>
<circle cx="302.3" cy="1286.9" r="6.55"/>
<circle cx="303.9" cy="1322.3" r="6.55"/>
<circle cx="306.1" cy="1311.8" r="6.55"/>
<circle cx="307.7" cy="1255.3" r="6.55"/>
<circle cx="309.6" cy="1337.1" r="6.55"/>
<circle cx="311.3" cy="1266.5" r="6.55"/>
<circle cx="313.4" cy="1331.2" r="6.55"/>
<circle cx="315.1" cy="1257.0" r="6.55"/>
<circle cx="317.0" cy="1270.3" r="6.55"/>
<circle cx="318.7" cy="1263.3" r="6.55"/>
<circle cx="320.4" cy="1246.9" r="6.55"/>
<circle cx="322.3" cy="1264.4" r="6.55"/>
<circle cx="324.4" cy="1258.1" r="6.55"/>
<circle cx="326.1" cy="1305.5" r="6.55"/>
<circle cx="328.2" cy="1206.0" r="6.55"/>
<circle cx="329.9" cy="1235.9" r="6.55"/>
<circle cx="331.8" cy="1265.0" r="6.55"/>
<circle cx="333.4" cy="1278.5" r="6.55"/>
<circle cx="335.5" cy="1306.5" r="6.55"/>
<circle cx="337.2" cy="1262.3" r="6.55"/>
<circle cx="339.1" cy="1272.8" r="6.55"/>
<circle cx="340.8" cy="1281.2" r="6.55"/>
<circle cx="342.5" cy="1271.8" r="6.55"/>
<circle cx="344.6" cy="1284.4" r="6.55"/>
<circle cx="346.5" cy="1270.7" r="6.55"/>
<circle cx="348.2" cy="1250.3" r="6.55"/>
<circle cx="350.3" cy="1260.2" r="6.55"/>
<circle cx="352.0" cy="1257.0" r="6.55"/>
<circle cx="353.9" cy="1279.8" r="6.55"/>
<circle cx="355.6" cy="1229.6" r="6.55"/>
<circle cx="357.7" cy="1238.0" r="6.55"/>
<circle cx="359.3" cy="1325.5" r="6.55"/>
<circle cx="361.2" cy="1333.9" r="6.55"/>
<circle cx="363.4" cy="1197.0" r="6.55"/>
<circle cx="365.0" cy="1255.3" r="6.55"/>
<circle cx="366.7" cy="1361.3" r="6.55"/>
<circle cx="368.6" cy="1266.5" r="6.55"/>
<circle cx="370.3" cy="1291.8" r="6.55"/>
<circle cx="372.4" cy="1333.5" r="6.55"/>
<circle cx="374.1" cy="1293.4" r="6.55"/>
<circle cx="376.0" cy="1253.8" r="6.55"/>
<circle cx="377.7" cy="1286.1" r="6.55"/>
<circle cx="379.8" cy="1290.7" r="6.55"/>
<circle cx="381.5" cy="1263.3" r="6.55"/>
<circle cx="383.4" cy="1304.0" r="6.55"/>
<circle cx="385.5" cy="1285.0" r="6.55"/>
<circle cx="387.2" cy="1206.9" r="6.55"/>
<circle cx="388.8" cy="1253.8" r="6.55"/>
<circle cx="390.7" cy="1227.1" r="6.55"/>
<circle cx="392.8" cy="1298.1" r="6.55"/>
<circle cx="394.5" cy="1232.8" r="6.55"/>
<circle cx="396.2" cy="1230.7" r="6.55"/>
<circle cx="398.3" cy="1256.0" r="6.55"/>
<circle cx="399.8" cy="1237.0" r="6.55"/>
<circle cx="401.9" cy="1240.8" r="6.55"/>
<circle cx="403.6" cy="1251.7" r="6.55"/>
<circle cx="405.5" cy="1253.8" r="6.55"/>
<circle cx="407.6" cy="1203.9" r="6.55"/>
<circle cx="409.3" cy="1219.5" r="6.55"/>
<circle cx="411.0" cy="1268.2" r="6.55"/>
<circle cx="412.9" cy="1243.9" r="6.55"/>
<circle cx="415.0" cy="1258.1" r="6.55"/>
<circle cx="416.6" cy="1292.4" r="6.55"/>
<circle cx="418.3" cy="1243.3" r="6.55"/>
<circle cx="420.2" cy="1238.0" r="6.55"/>
<circle cx="421.9" cy="1298.7" r="6.55"/>
<circle cx="424.0" cy="1303.4" r="6.55"/>
<circle cx="425.7" cy="1220.1" r="6.55"/>
<circle cx="427.6" cy="1210.7" r="6.55"/>
<circle cx="429.7" cy="1235.5" r="6.55"/>
<circle cx="431.4" cy="1312.2" r="6.55"/>
<circle cx="433.1" cy="1288.2" r="6.55"/>
<circle cx="435.0" cy="1293.9" r="6.55"/>
<circle cx="437.3" cy="1225.8" r="6.55"/>
<circle cx="440.5" cy="1276.0" r="6.55"/>
<circle cx="442.3" cy="1168.5" r="6.55"/>
<circle cx="444.5" cy="1122.2" r="6.55"/>
<circle cx="446.1" cy="1203.7" r="6.55"/>
<circle cx="448.2" cy="1100.1" r="6.55"/>
<circle cx="449.9" cy="1181.8" r="6.55"/>
<circle cx="451.4" cy="1225.0" r="6.55"/>
<circle cx="453.1" cy="1249.6" r="6.55"/>
<circle cx="455.2" cy="1310.3" r="6.55"/>
<circle cx="457.3" cy="1221.2" r="6.55"/>
<circle cx="459.2" cy="1240.8" r="6.55"/>
<circle cx="460.9" cy="1319.6" r="6.55"/>
<circle cx="463.0" cy="1159.5" r="6.55"/>
<circle cx="464.5" cy="1290.1" r="6.55"/>
<circle cx="466.6" cy="1259.7" r="6.55"/>
<circle cx="468.3" cy="1193.8" r="6.55"/>
<circle cx="469.9" cy="1199.1" r="6.55"/>
<circle cx="472.1" cy="1230.7" r="6.55"/>
<circle cx="473.5" cy="1186.4" r="6.55"/>
<circle cx="475.6" cy="1169.6" r="6.55"/>
<circle cx="477.7" cy="1185.4" r="6.55"/>
<circle cx="479.8" cy="1172.7" r="6.55"/>
<circle cx="481.5" cy="1253.8" r="6.55"/>
<circle cx="483.0" cy="1262.9" r="6.55"/>
<circle cx="485.1" cy="1121.8" r="6.55"/>
<circle cx="486.8" cy="1184.3" r="6.55"/>
<circle cx="488.7" cy="1193.8" r="6.55"/>
<circle cx="490.4" cy="1170.2" r="6.55"/>
<circle cx="492.5" cy="1170.6" r="6.55"/>
<circle cx="494.2" cy="1127.4" r="6.55"/>
<circle cx="496.1" cy="1265.4" r="6.55"/>
<circle cx="497.8" cy="1212.3" r="6.55"/>
<circle cx="499.4" cy="1292.4" r="6.55"/>
<circle cx="501.5" cy="1352.4" r="6.55"/>
<circle cx="503.6" cy="1204.8" r="6.55"/>
<circle cx="505.5" cy="1098.6" r="6.55"/>
<circle cx="507.2" cy="1048.5" r="6.55"/>
<circle cx="508.9" cy="1151.3" r="6.55"/>
<circle cx="510.8" cy="1220.1" r="6.55"/>
<circle cx="512.5" cy="1231.7" r="6.55"/>
<circle cx="514.6" cy="1218.0" r="6.55"/>
<circle cx="516.7" cy="1057.3" r="6.55"/>
<circle cx="518.2" cy="1180.5" r="6.55"/>
<circle cx="520.3" cy="1126.4" r="6.55"/>
<circle cx="522.0" cy="1168.5" r="6.55"/>
<circle cx="523.7" cy="1256.0" r="6.55"/>
<circle cx="525.6" cy="1164.3" r="6.55"/>
<circle cx="527.2" cy="1265.0" r="6.55"/>
<circle cx="529.4" cy="1214.5" r="6.55"/>
<circle cx="531.0" cy="1273.9" r="6.55"/>
<circle cx="532.9" cy="1180.1" r="6.55"/>
<circle cx="535.0" cy="1249.6" r="6.55"/>
<circle cx="536.7" cy="1234.5" r="6.55"/>
<circle cx="538.8" cy="1139.5" r="6.55"/>
<circle cx="540.5" cy="1215.9" r="6.55"/>
<circle cx="542.4" cy="1181.6" r="6.55"/>
<circle cx="544.1" cy="1257.4" r="6.55"/>
<circle cx="546.2" cy="1175.9" r="6.55"/>
<circle cx="547.9" cy="1190.6" r="6.55"/>
<circle cx="549.8" cy="1203.3" r="6.55"/>
<circle cx="551.5" cy="1230.0" r="6.55"/>
<circle cx="553.6" cy="1194.9" r="6.55"/>
<circle cx="555.3" cy="1223.3" r="6.55"/>
<circle cx="556.3" cy="1168.5" r="6.55"/>
<circle cx="559.7" cy="1278.1" r="6.55"/>
<circle cx="559.1" cy="1345.5" r="6.55"/>
<circle cx="561.8" cy="1252.2" r="6.55"/>
<circle cx="563.9" cy="1305.0" r="6.55"/>
<circle cx="566.4" cy="1399.2" r="6.55"/>
<circle cx="568.1" cy="1311.8" r="6.55"/>
<circle cx="570.0" cy="1416.7" r="6.55"/>
<circle cx="571.7" cy="1299.6" r="6.55"/>
<circle cx="575.9" cy="1460.3" r="6.55"/>
<circle cx="577.4" cy="1278.5" r="6.55"/>
<circle cx="579.1" cy="1220.1" r="6.55"/>
<circle cx="580.8" cy="1265.0" r="6.55"/>
<circle cx="582.9" cy="1338.7" r="6.55"/>
<circle cx="584.8" cy="1245.0" r="6.55"/>
<circle cx="586.9" cy="1231.7" r="6.55"/>
<circle cx="590.0" cy="1259.1" r="6.55"/>
<circle cx="592.1" cy="1208.6" r="6.55"/>
<circle cx="594.2" cy="1214.9" r="6.55"/>
<circle cx="595.9" cy="1288.6" r="6.55"/>
<circle cx="598.0" cy="1213.8" r="6.55"/>
<circle cx="599.7" cy="1228.6" r="6.55"/>
<circle cx="601.6" cy="1232.8" r="6.55"/>
<circle cx="602.9" cy="1264.4" r="6.55"/>
<circle cx="604.8" cy="1255.5" r="6.55"/>
<circle cx="606.9" cy="1239.1" r="6.55"/>
<circle cx="608.6" cy="1169.2" r="6.55"/>
<circle cx="610.7" cy="1256.6" r="6.55"/>
<circle cx="612.4" cy="1221.2" r="6.55"/>
<circle cx="614.5" cy="1235.9" r="6.55"/>
<circle cx="616.4" cy="1232.8" r="6.55"/>
<circle cx="618.0" cy="1239.1" r="6.55"/>
<circle cx="619.7" cy="1333.9" r="6.55"/>
<circle cx="621.8" cy="1228.6" r="6.55"/>
<circle cx="623.7" cy="1242.3" r="6.55"/>
<circle cx="625.4" cy="1337.7" r="6.55"/>
<circle cx="627.1" cy="1269.2" r="6.55"/>
<circle cx="629.0" cy="1300.6" r="6.55"/>
<circle cx="630.7" cy="1257.4" r="6.55"/>
<circle cx="632.8" cy="1320.2" r="6.55"/>
<circle cx="634.5" cy="1358.5" r="6.55"/>
<circle cx="636.4" cy="1339.2" r="6.55"/>
<circle cx="638.5" cy="1339.8" r="6.55"/>
<circle cx="640.2" cy="1277.0" r="6.55"/>
<circle cx="641.8" cy="1267.1" r="6.55"/>
<circle cx="643.9" cy="1253.8" r="6.55"/>
<circle cx="645.4" cy="1272.8" r="6.55"/>
<circle cx="647.5" cy="1206.4" r="6.55"/>
<circle cx="649.2" cy="1252.8" r="6.55"/>
<circle cx="651.1" cy="1287.6" r="6.55"/>
<circle cx="652.8" cy="1278.1" r="6.55"/>
<circle cx="654.5" cy="1181.2" r="6.55"/>
<circle cx="656.4" cy="1268.6" r="6.55"/>
<circle cx="658.1" cy="1272.8" r="6.55"/>
<circle cx="660.2" cy="1184.3" r="6.55"/>
<circle cx="661.9" cy="1197.0" r="6.55"/>
<circle cx="664.0" cy="1176.5" r="6.55"/>
<circle cx="665.9" cy="1271.1" r="6.55"/>
<circle cx="667.5" cy="1260.2" r="6.55"/>
<circle cx="669.2" cy="1205.8" r="6.55"/>
<circle cx="671.3" cy="1240.2" r="6.55"/>
<circle cx="673.2" cy="1247.5" r="6.55"/>
<circle cx="674.9" cy="1173.8" r="6.55"/>
<circle cx="677.0" cy="1214.5" r="6.55"/>
<circle cx="678.7" cy="1197.4" r="6.55"/>
<circle cx="680.6" cy="1108.5" r="6.55"/>
<circle cx="682.7" cy="1187.5" r="6.55"/>
<circle cx="684.4" cy="1146.8" r="6.55"/>
<circle cx="686.1" cy="1241.8" r="6.55"/>
<circle cx="688.2" cy="1254.5" r="6.55"/>
<circle cx="690.1" cy="1250.7" r="6.55"/>
<circle cx="691.8" cy="1253.8" r="6.55"/>
<circle cx="693.5" cy="1244.4" r="6.55"/>
<circle cx="695.4" cy="1306.5" r="6.55"/>
<circle cx="697.0" cy="1248.6" r="6.55"/>
<circle cx="698.7" cy="1253.8" r="6.55"/>
<circle cx="700.8" cy="1223.7" r="6.55"/>
<circle cx="702.7" cy="1298.1" r="6.55"/>
<circle cx="704.4" cy="1268.0" r="6.55"/>
<circle cx="706.5" cy="1277.0" r="6.55"/>
<circle cx="708.2" cy="1246.1" r="6.55"/>
<circle cx="710.1" cy="1219.1" r="6.55"/>
<circle cx="712.2" cy="1202.2" r="6.55"/>
<circle cx="713.9" cy="1146.4" r="6.55"/>
<circle cx="715.6" cy="1111.6" r="6.55"/>
<circle cx="717.7" cy="1116.9" r="6.55"/>
<circle cx="719.6" cy="1071.2" r="6.55"/>
<circle cx="721.3" cy="1169.2" r="6.55"/>
<circle cx="723.4" cy="1153.4" r="6.55"/>
<circle cx="725.5" cy="1151.3" r="6.55"/>
<circle cx="726.5" cy="1209.2" r="6.55"/>
<circle cx="728.6" cy="1179.1" r="6.55"/>
<circle cx="730.7" cy="1223.9" r="6.55"/>
<circle cx="732.4" cy="1185.0" r="6.55"/>
<circle cx="734.3" cy="1253.4" r="6.55"/>
<circle cx="736.0" cy="1263.3" r="6.55"/>
<circle cx="738.1" cy="1334.9" r="6.55"/>
<circle cx="739.6" cy="1315.4" r="6.55"/>
<circle cx="741.3" cy="1189.6" r="6.55"/>
<circle cx="743.4" cy="1180.7" r="6.55"/>
<circle cx="745.1" cy="1211.7" r="6.55"/>
<circle cx="747.2" cy="1182.2" r="6.55"/>
<circle cx="749.1" cy="1201.6" r="6.55"/>
<circle cx="750.8" cy="1250.7" r="6.55"/>
<circle cx="752.4" cy="1326.5" r="6.55"/>
<circle cx="754.5" cy="1284.4" r="6.55"/>
<circle cx="756.4" cy="1079.6" r="6.55"/>
<circle cx="758.1" cy="1164.7" r="6.55"/>
<circle cx="760.2" cy="1297.7" r="6.55"/>
<circle cx="761.9" cy="1308.2" r="6.55"/>
<circle cx="763.8" cy="1260.6" r="6.55"/>
<circle cx="765.5" cy="1230.3" r="6.55"/>
<circle cx="767.6" cy="1185.4" r="6.55"/>
<circle cx="769.3" cy="1181.2" r="6.55"/>
<circle cx="771.2" cy="1147.0" r="6.55"/>
<circle cx="772.9" cy="1179.1" r="6.55"/>
<circle cx="774.6" cy="1195.9" r="6.55"/>
<circle cx="776.5" cy="1188.5" r="6.55"/>
<circle cx="778.6" cy="1239.7" r="6.55"/>
<circle cx="780.2" cy="1281.2" r="6.55"/>
<circle cx="781.9" cy="1270.7" r="6.55"/>
<circle cx="783.8" cy="1274.9" r="6.55"/>
<circle cx="786.1" cy="1200.1" r="6.55"/>
<circle cx="787.6" cy="1159.5" r="6.55"/>
<circle cx="789.7" cy="1339.6" r="6.55"/>
<circle cx="791.4" cy="1215.9" r="6.55"/>
<circle cx="793.3" cy="1302.9" r="6.55"/>
<circle cx="795.0" cy="1214.9" r="6.55"/>
<circle cx="797.1" cy="1226.5" r="6.55"/>
<circle cx="798.8" cy="1325.0" r="6.55"/>
<circle cx="800.7" cy="1287.6" r="6.55"/>
<circle cx="802.4" cy="1279.1" r="6.55"/>
<circle cx="804.5" cy="1212.8" r="6.55"/>
<circle cx="806.6" cy="1286.9" r="6.55"/>
<circle cx="808.3" cy="1179.5" r="6.55"/>
<circle cx="809.7" cy="1272.8" r="6.55"/>
<circle cx="811.8" cy="1310.1" r="6.55"/>
<circle cx="813.5" cy="1298.1" r="6.55"/>
<circle cx="815.4" cy="1264.4" r="6.55"/>
<circle cx="817.5" cy="1196.5" r="6.55"/>
<circle cx="819.2" cy="1357.1" r="6.55"/>
<circle cx="820.9" cy="1271.8" r="6.55"/>
<circle cx="822.8" cy="1327.6" r="6.55"/>
<circle cx="824.5" cy="1279.1" r="6.55"/>
<circle cx="826.6" cy="1234.3" r="6.55"/>
<circle cx="828.3" cy="1281.2" r="6.55"/>
<circle cx="830.2" cy="1285.4" r="6.55"/>
<circle cx="831.9" cy="1331.8" r="6.55"/>
<circle cx="834.0" cy="1386.1" r="6.55"/>
<circle cx="835.6" cy="1297.0" r="6.55"/>
<circle cx="837.5" cy="1281.2" r="6.55"/>
<circle cx="839.7" cy="1293.9" r="6.55"/>
<circle cx="841.3" cy="1310.7" r="6.55"/>
<circle cx="843.4" cy="1428.7" r="6.55"/>
<circle cx="845.6" cy="1312.8" r="6.55"/>
<circle cx="847.0" cy="1258.7" r="6.55"/>
<circle cx="848.7" cy="1273.2" r="6.55"/>
<circle cx="850.8" cy="1257.0" r="6.55"/>
<circle cx="852.5" cy="1275.5" r="6.55"/>
<circle cx="854.6" cy="1277.0" r="6.55"/>
<circle cx="856.1" cy="1257.4" r="6.55"/>
<circle cx="858.2" cy="1262.3" r="6.55"/>
<circle cx="859.9" cy="1252.4" r="6.55"/>
<circle cx="861.8" cy="1286.5" r="6.55"/>
<circle cx="863.5" cy="1305.5" r="6.55"/>
<circle cx="865.6" cy="1303.4" r="6.55"/>
<circle cx="867.2" cy="1260.2" r="6.55"/>
<circle cx="869.1" cy="1300.2" r="6.55"/>
<circle cx="870.8" cy="1310.7" r="6.55"/>
<circle cx="872.5" cy="1274.9" r="6.55"/>
<circle cx="874.6" cy="1275.5" r="6.55"/>
<circle cx="876.5" cy="1294.9" r="6.55"/>
<circle cx="878.2" cy="1308.6" r="6.55"/>
<circle cx="880.3" cy="1309.2" r="6.55"/>
<circle cx="882.0" cy="1243.3" r="6.55"/>
<circle cx="883.9" cy="1256.6" r="6.55"/>
<circle cx="885.6" cy="1245.4" r="6.55"/>
<circle cx="887.7" cy="1283.3" r="6.55"/>
<circle cx="889.2" cy="1297.0" r="6.55"/>
<circle cx="893.6" cy="1206.0" r="6.55"/>
<circle cx="893.2" cy="1290.3" r="6.55"/>
<circle cx="896.7" cy="1279.8" r="6.55"/>
<circle cx="898.8" cy="1356.0" r="6.55"/>
<circle cx="900.5" cy="1324.4" r="6.55"/>
<circle cx="902.2" cy="1264.4" r="6.55"/>
<circle cx="904.3" cy="1329.7" r="6.55"/>
<circle cx="906.2" cy="1308.2" r="6.55"/>
<circle cx="907.9" cy="1334.9" r="6.55"/>
<circle cx="909.6" cy="1378.8" r="6.55"/>
<circle cx="911.5" cy="1254.9" r="6.55"/>
<circle cx="913.2" cy="1274.9" r="6.55"/>
<circle cx="915.3" cy="1261.2" r="6.55"/>
<circle cx="917.0" cy="1237.0" r="6.55"/>
<circle cx="919.1" cy="1258.1" r="6.55"/>
<circle cx="921.0" cy="1266.5" r="6.55"/>
<circle cx="922.7" cy="1358.8" r="6.55"/>
<circle cx="924.3" cy="1269.6" r="6.55"/>
<circle cx="926.4" cy="1265.4" r="6.55"/>
<circle cx="928.3" cy="1249.6" r="6.55"/>
<circle cx="930.0" cy="1228.6" r="6.55"/>
<circle cx="931.7" cy="1272.8" r="6.55"/>
<circle cx="933.6" cy="1280.2" r="6.55"/>
<circle cx="935.3" cy="1268.6" r="6.55"/>
<circle cx="937.4" cy="1270.7" r="6.55"/>
<circle cx="939.5" cy="1228.1" r="6.55"/>
<circle cx="941.2" cy="1257.0" r="6.55"/>
<circle cx="943.1" cy="1262.3" r="6.55"/>
<circle cx="944.8" cy="1256.0" r="6.55"/>
<circle cx="946.9" cy="1253.8" r="6.55"/>
<circle cx="948.6" cy="1256.0" r="6.55"/>
<circle cx="950.5" cy="1307.6" r="6.55"/>
<circle cx="952.1" cy="1297.5" r="6.55"/>
<circle cx="953.8" cy="1225.0" r="6.55"/>
<circle cx="955.9" cy="1274.5" r="6.55"/>
<circle cx="957.8" cy="1247.5" r="6.55"/>
<circle cx="959.5" cy="1228.6" r="6.55"/>
<circle cx="961.2" cy="1256.0" r="6.55"/>
<circle cx="963.3" cy="1243.3" r="6.55"/>
<circle cx="965.2" cy="1237.0" r="6.55"/>
<circle cx="966.9" cy="1245.4" r="6.55"/>
<circle cx="969.0" cy="1179.1" r="6.55"/>
<circle cx="970.7" cy="1308.6" r="6.55"/>
<circle cx="972.6" cy="1253.4" r="6.55"/>
<circle cx="974.3" cy="1163.3" r="6.55"/>
<circle cx="976.4" cy="1297.7" r="6.55"/>
<circle cx="978.1" cy="1226.0" r="6.55"/>
<circle cx="980.0" cy="1286.5" r="6.55"/>
<circle cx="982.1" cy="1242.3" r="6.55"/>
<circle cx="983.7" cy="1304.4" r="6.55"/>
<circle cx="985.4" cy="1343.0" r="6.55"/>
<circle cx="987.3" cy="1271.8" r="6.55"/>
<circle cx="989.4" cy="1274.9" r="6.55"/>
<circle cx="991.1" cy="1305.5" r="6.55"/>
<circle cx="992.8" cy="1288.6" r="6.55"/>
<circle cx="994.7" cy="1239.7" r="6.55"/>
<circle cx="996.4" cy="1244.4" r="6.55"/>
<circle cx="998.5" cy="1279.1" r="6.55"/>
<circle cx="1000.2" cy="1227.5" r="6.55"/>
<circle cx="1002.1" cy="1262.9" r="6.55"/>
<circle cx="1003.8" cy="1186.4" r="6.55"/>
<circle cx="1005.9" cy="1199.1" r="6.55"/>
<circle cx="1007.5" cy="1252.8" r="6.55"/>
<circle cx="1009.4" cy="1215.3" r="6.55"/>
<circle cx="1011.6" cy="1211.1" r="6.55"/>
<circle cx="1013.2" cy="1231.1" r="6.55"/>
<circle cx="1014.9" cy="1189.6" r="6.55"/>
<circle cx="1016.8" cy="1190.6" r="6.55"/>
<circle cx="1018.9" cy="1201.8" r="6.55"/>
<circle cx="1020.6" cy="1155.5" r="6.55"/>
<circle cx="1022.3" cy="1172.3" r="6.55"/>
<circle cx="1024.4" cy="1172.7" r="6.55"/>
<circle cx="1026.1" cy="1292.2" r="6.55"/>
<circle cx="1028.0" cy="1388.7" r="6.55"/>
<circle cx="1029.7" cy="1352.9" r="6.55"/>
<circle cx="1031.6" cy="1237.0" r="6.55"/>
<circle cx="1033.2" cy="1059.6" r="6.55"/>
<circle cx="1035.4" cy="1101.1" r="6.55"/>
<circle cx="1037.0" cy="1007.4" r="6.55"/>
<circle cx="1039.1" cy="1209.0" r="6.55"/>
<circle cx="1041.0" cy="1150.6" r="6.55"/>
<circle cx="1042.7" cy="1059.0" r="6.55"/>
<circle cx="1044.8" cy="1150.6" r="6.55"/>
<circle cx="1046.5" cy="1052.7" r="6.55"/>
<circle cx="1048.4" cy="1097.3" r="6.55"/>
<circle cx="1050.1" cy="1103.2" r="6.55"/>
<circle cx="1051.8" cy="1222.9" r="6.55"/>
<circle cx="1053.9" cy="1122.2" r="6.55"/>
<circle cx="1055.8" cy="1219.1" r="6.55"/>
<circle cx="1057.5" cy="1286.5" r="6.55"/>
<circle cx="1059.2" cy="1270.7" r="6.55"/>
<circle cx="1061.1" cy="1173.4" r="6.55"/>
<circle cx="1062.7" cy="1250.7" r="6.55"/>
<circle cx="1064.8" cy="1257.0" r="6.55"/>
<circle cx="1066.5" cy="1240.2" r="6.55"/>
<circle cx="1068.4" cy="1209.6" r="6.55"/>
<circle cx="1070.5" cy="1161.2" r="6.55"/>
<circle cx="1072.2" cy="1221.2" r="6.55"/>
<circle cx="1073.9" cy="1336.0" r="6.55"/>
<circle cx="1075.8" cy="1228.1" r="6.55"/>
<circle cx="1077.5" cy="1213.2" r="6.55"/>
<circle cx="1079.6" cy="1186.0" r="6.55"/>
<circle cx="1081.3" cy="1250.1" r="6.55"/>
<circle cx="1083.4" cy="1173.4" r="6.55"/>
<circle cx="1085.3" cy="1193.8" r="6.55"/>
<circle cx="1087.0" cy="1282.3" r="6.55"/>
<circle cx="1088.7" cy="1215.5" r="6.55"/>
<circle cx="1090.5" cy="1307.1" r="6.55"/>
<circle cx="1092.7" cy="1200.8" r="6.55"/>
<circle cx="1094.3" cy="1152.1" r="6.55"/>
<circle cx="1096.4" cy="1385.1" r="6.55"/>
<circle cx="1098.1" cy="1263.3" r="6.55"/>
<circle cx="1100.0" cy="1259.1" r="6.55"/>
<circle cx="1101.7" cy="1267.5" r="6.55"/>
<circle cx="1103.4" cy="1294.5" r="6.55"/>
<circle cx="1105.3" cy="1415.0" r="6.55"/>
<circle cx="1107.4" cy="1190.0" r="6.55"/>
<circle cx="1109.5" cy="1268.0" r="6.55"/>
<circle cx="1111.2" cy="1217.0" r="6.55"/>
<circle cx="1112.9" cy="1345.5" r="6.55"/>
<circle cx="1114.8" cy="1233.2" r="6.55"/>
<circle cx="1116.5" cy="1371.8" r="6.55"/>
<circle cx="1118.6" cy="1258.5" r="6.55"/>
<circle cx="1120.3" cy="1246.1" r="6.55"/>
<circle cx="1122.1" cy="1239.1" r="6.55"/>
<circle cx="1123.8" cy="1171.1" r="6.55"/>
<circle cx="1125.5" cy="1225.4" r="6.55"/>
<circle cx="1127.4" cy="1220.6" r="6.55"/>
<circle cx="1129.5" cy="1294.5" r="6.55"/>
<circle cx="1131.2" cy="1282.7" r="6.55"/>
<circle cx="1132.9" cy="1206.4" r="6.55"/>
<circle cx="1135.0" cy="1248.2" r="6.55"/>
<circle cx="1136.9" cy="1262.7" r="6.55"/>
<circle cx="1138.6" cy="1230.0" r="6.55"/>
<circle cx="1140.3" cy="1190.6" r="6.55"/>
<circle cx="1142.4" cy="1171.3" r="6.55"/>
<circle cx="1144.3" cy="1214.9" r="6.55"/>
<circle cx="1146.0" cy="1135.2" r="6.55"/>
<circle cx="1148.1" cy="1297.7" r="6.55"/>
<circle cx="1149.7" cy="1276.4" r="6.55"/>
<circle cx="1151.6" cy="1324.4" r="6.55"/>
<circle cx="1153.3" cy="1252.8" r="6.55"/>
<circle cx="1155.0" cy="1311.8" r="6.55"/>
<circle cx="1157.1" cy="1376.4" r="6.55"/>
<circle cx="1159.0" cy="1287.6" r="6.55"/>
<circle cx="1160.7" cy="1279.1" r="6.55"/>
<circle cx="1162.4" cy="1315.6" r="6.55"/>
<circle cx="1164.5" cy="1247.1" r="6.55"/>
<circle cx="1166.4" cy="1311.1" r="6.55"/>
<circle cx="1168.1" cy="1399.2" r="6.55"/>
<circle cx="1170.2" cy="1372.2" r="6.55"/>
<circle cx="1171.9" cy="1231.7" r="6.55"/>
<circle cx="1173.8" cy="1231.3" r="6.55"/>
<circle cx="1175.4" cy="1301.2" r="6.55"/>
<circle cx="1177.6" cy="1304.4" r="6.55"/>
<circle cx="1179.2" cy="1324.4" r="6.55"/>
<circle cx="1181.1" cy="1299.8" r="6.55"/>
<circle cx="1182.8" cy="1312.8" r="6.55"/>
<circle cx="1184.5" cy="1273.9" r="6.55"/>
<circle cx="1186.6" cy="1277.6" r="6.55"/>
<circle cx="1188.5" cy="1247.5" r="6.55"/>
<circle cx="1190.2" cy="1268.6" r="6.55"/>
<circle cx="1191.9" cy="1261.2" r="6.55"/>
<circle cx="1194.0" cy="1252.8" r="6.55"/>
<circle cx="1195.9" cy="1266.5" r="6.55"/>
<circle cx="1198.0" cy="1391.2" r="6.55"/>
<circle cx="1199.2" cy="1202.2" r="6.55"/>
<circle cx="1201.1" cy="1255.5" r="6.55"/>
<circle cx="1202.8" cy="1264.4" r="6.55"/>
<circle cx="1204.9" cy="1170.2" r="6.55"/>
<circle cx="1206.6" cy="1253.4" r="6.55"/>
<circle cx="1208.5" cy="1148.1" r="6.55"/>
<circle cx="1210.6" cy="1163.3" r="6.55"/>
<circle cx="1212.3" cy="1134.2" r="6.55"/>
<circle cx="1214.4" cy="1223.9" r="6.55"/>
<circle cx="1216.1" cy="1214.5" r="6.55"/>
<circle cx="1218.0" cy="1146.0" r="6.55"/>
<circle cx="1219.7" cy="1235.9" r="6.55"/>
<circle cx="1221.2" cy="1278.1" r="6.55"/>
<circle cx="1223.1" cy="1261.2" r="6.55"/>
<circle cx="1224.5" cy="1273.9" r="6.55"/>
<circle cx="1226.2" cy="1321.3" r="6.55"/>
<circle cx="1228.3" cy="1261.2" r="6.55"/>
<circle cx="1230.4" cy="1268.6" r="6.55"/>
<circle cx="1232.5" cy="1341.3" r="6.55"/>
<circle cx="1234.2" cy="1294.9" r="6.55"/>
<circle cx="1236.3" cy="1290.7" r="6.55"/>
<circle cx="1238.4" cy="1279.1" r="6.55"/>
<circle cx="1240.5" cy="1343.4" r="6.55"/>
<circle cx="1242.0" cy="1250.7" r="6.55"/>
<circle cx="1244.1" cy="1225.4" r="6.55"/>
<circle cx="1245.8" cy="1215.3" r="6.55"/>
<circle cx="1247.7" cy="1289.7" r="6.55"/>
<circle cx="1249.4" cy="1239.7" r="6.55"/>
<circle cx="1251.5" cy="1191.7" r="6.55"/>
<circle cx="1253.2" cy="1291.8" r="6.55"/>
<circle cx="1255.3" cy="1198.4" r="6.55"/>
<circle cx="1256.8" cy="1261.9" r="6.55"/>
<circle cx="1258.9" cy="1279.8" r="6.55"/>
<circle cx="1260.6" cy="1252.8" r="6.55"/>
<circle cx="1262.7" cy="1260.2" r="6.55"/>
<circle cx="1266.2" cy="1285.4" r="6.55"/>
<circle cx="1268.3" cy="1300.6" r="6.55"/>
<circle cx="1270.0" cy="1323.4" r="6.55"/>
<circle cx="1271.9" cy="1214.9" r="6.55"/>
<circle cx="1273.6" cy="1269.6" r="6.55"/>
<circle cx="1275.7" cy="1272.4" r="6.55"/>
<circle cx="1277.2" cy="1234.3" r="6.55"/>
<circle cx="1278.9" cy="1245.4" r="6.55"/>
<circle cx="1281.0" cy="1219.7" r="6.55"/>
<circle cx="1283.1" cy="1276.6" r="6.55"/>
<circle cx="1284.8" cy="1205.4" r="6.55"/>
<circle cx="1286.7" cy="1234.9" r="6.55"/>
<circle cx="1288.4" cy="1288.6" r="6.55"/>
<circle cx="1290.5" cy="1238.0" r="6.55"/>
<circle cx="1292.1" cy="1241.2" r="6.55"/>
<circle cx="1294.0" cy="1249.6" r="6.55"/>
<circle cx="1295.7" cy="1242.3" r="6.55"/>
<circle cx="1297.4" cy="1192.8" r="6.55"/>
<circle cx="1299.5" cy="1187.5" r="6.55"/>
<circle cx="1301.4" cy="1241.6" r="6.55"/>
<circle cx="1303.1" cy="1181.2" r="6.55"/>
<circle cx="1304.8" cy="1301.9" r="6.55"/>
<circle cx="1306.7" cy="1204.8" r="6.55"/>
<circle cx="1308.4" cy="1252.8" r="6.55"/>
<circle cx="1310.5" cy="1313.9" r="6.55"/>
<circle cx="1312.2" cy="1247.5" r="6.55"/>
<circle cx="1314.1" cy="1185.4" r="6.55"/>
<circle cx="1315.7" cy="1238.0" r="6.55"/>
<circle cx="1317.9" cy="1229.6" r="6.55"/>
<circle cx="1320.0" cy="1243.3" r="6.55"/>
<circle cx="1321.6" cy="1119.4" r="6.55"/>
<circle cx="1323.5" cy="1275.5" r="6.55"/>
<circle cx="1325.2" cy="1194.2" r="6.55"/>
<circle cx="1327.3" cy="1165.4" r="6.55"/>
<circle cx="1329.0" cy="1299.8" r="6.55"/>
<circle cx="1330.9" cy="1249.6" r="6.55"/>
<circle cx="1333.0" cy="1232.8" r="6.55"/>
<circle cx="1335.1" cy="1296.6" r="6.55"/>
<circle cx="1336.8" cy="1232.8" r="6.55"/>
<circle cx="1338.5" cy="1182.2" r="6.55"/>
<circle cx="1340.4" cy="1243.7" r="6.55"/>
<circle cx="1342.1" cy="1259.1" r="6.55"/>
<circle cx="1343.8" cy="1333.9" r="6.55"/>
<circle cx="1345.7" cy="1317.5" r="6.55"/>
<circle cx="1347.3" cy="1189.2" r="6.55"/>
<circle cx="1349.4" cy="1340.6" r="6.55"/>
<circle cx="1351.1" cy="1169.6" r="6.55"/>
<circle cx="1353.0" cy="1268.2" r="6.55"/>
<circle cx="1354.7" cy="1324.4" r="6.55"/>
<circle cx="1356.8" cy="1224.8" r="6.55"/>
<circle cx="1358.5" cy="1145.4" r="6.55"/>
<circle cx="1360.4" cy="1285.0" r="6.55"/>
<circle cx="1362.5" cy="1354.5" r="6.55"/>
<circle cx="1364.2" cy="1319.1" r="6.55"/>
<circle cx="1365.9" cy="1274.5" r="6.55"/>
<circle cx="1367.8" cy="1209.2" r="6.55"/>
<circle cx="1369.5" cy="1371.8" r="6.55"/>
<circle cx="1371.6" cy="1269.6" r="6.55"/>
<circle cx="1373.3" cy="1296.6" r="6.55"/>
<circle cx="1375.1" cy="1362.3" r="6.55"/>
<circle cx="1377.3" cy="1236.6" r="6.55"/>
<circle cx="1378.5" cy="1167.5" r="6.55"/>
<circle cx="1380.6" cy="1293.4" r="6.55"/>
<circle cx="1382.5" cy="1208.6" r="6.55"/>
<circle cx="1384.2" cy="1257.0" r="6.55"/>
<circle cx="1385.9" cy="1268.6" r="6.55"/>
<circle cx="1388.0" cy="1208.6" r="6.55"/>
<circle cx="1389.9" cy="1274.5" r="6.55"/>
<circle cx="1391.6" cy="1218.7" r="6.55"/>
<circle cx="1393.7" cy="1302.9" r="6.55"/>
<circle cx="1395.4" cy="1268.6" r="6.55"/>
<circle cx="1396.8" cy="1284.8" r="6.55"/>
<circle cx="1399.0" cy="1258.1" r="6.55"/>
<circle cx="1401.1" cy="1351.8" r="6.55"/>
<circle cx="1402.5" cy="1314.5" r="6.55"/>
<circle cx="1404.6" cy="1279.8" r="6.55"/>
<circle cx="1406.7" cy="1349.1" r="6.55"/>
<circle cx="1408.4" cy="1272.8" r="6.55"/>
<circle cx="1410.1" cy="1243.3" r="6.55"/>
<circle cx="1412.2" cy="1215.3" r="6.55"/>
<circle cx="1413.7" cy="1229.0" r="6.55"/>
<circle cx="1415.8" cy="1118.4" r="6.55"/>
<circle cx="1417.5" cy="1264.0" r="6.55"/>
<circle cx="1419.4" cy="1214.9" r="6.55"/>
<circle cx="1421.5" cy="1322.9" r="6.55"/>
<circle cx="1423.2" cy="1153.1" r="6.55"/>
<circle cx="1424.9" cy="1254.5" r="6.55"/>
<circle cx="1426.8" cy="1273.2" r="6.55"/>
<circle cx="1428.9" cy="1242.7" r="6.55"/>
<circle cx="1430.6" cy="1182.9" r="6.55"/>
<circle cx="1432.2" cy="1235.9" r="6.55"/>
<circle cx="1434.1" cy="1361.9" r="6.55"/>
<circle cx="1436.2" cy="1287.1" r="6.55"/>
<circle cx="1437.9" cy="1354.5" r="6.55"/>
<circle cx="1439.6" cy="1417.7" r="6.55"/>
<circle cx="1441.7" cy="1380.7" r="6.55"/>
<circle cx="1443.6" cy="1284.0" r="6.55"/>
<circle cx="1445.3" cy="1362.3" r="6.55"/>
<circle cx="1447.4" cy="1393.5" r="6.55"/>
<circle cx="1448.9" cy="1194.9" r="6.55"/>
<circle cx="1451.0" cy="1301.9" r="6.55"/>
<circle cx="1452.7" cy="1370.8" r="6.55"/>
<circle cx="1454.4" cy="1353.9" r="6.55"/>
<circle cx="1456.3" cy="1284.8" r="6.55"/>
<circle cx="1457.9" cy="1365.1" r="6.55"/>
<circle cx="1460.0" cy="1191.1" r="6.55"/>
<circle cx="1461.7" cy="1368.7" r="6.55"/>
<circle cx="1463.8" cy="1300.6" r="6.55"/>
<circle cx="1465.7" cy="1202.2" r="6.55"/>
<circle cx="1467.4" cy="1180.5" r="6.55"/>
<circle cx="1469.1" cy="1303.4" r="6.55"/>
<circle cx="1471.2" cy="1212.1" r="6.55"/>
<circle cx="1473.1" cy="1303.4" r="6.55"/>
<circle cx="1474.8" cy="1313.9" r="6.55"/>
<circle cx="1476.9" cy="1420.3" r="6.55"/>
<circle cx="1480.5" cy="1449.8" r="6.55"/>
<circle cx="1487.9" cy="1366.1" r="6.55"/>
<circle cx="1489.5" cy="1347.0" r="6.55"/>
<circle cx="1491.6" cy="1456.1" r="6.55"/>
<circle cx="1495.2" cy="1261.2" r="6.55"/>
<circle cx="1496.9" cy="1173.4" r="6.55"/>
<circle cx="1498.6" cy="1293.2" r="6.55"/>
<circle cx="1500.7" cy="1428.7" r="6.55"/>
<circle cx="1502.6" cy="1385.1" r="6.55"/>
<circle cx="1504.3" cy="1268.6" r="6.55"/>
<circle cx="1506.4" cy="1256.4" r="6.55"/>
<circle cx="1508.1" cy="1101.7" r="6.55"/>
<circle cx="1510.0" cy="1239.1" r="6.55"/>
<circle cx="1511.7" cy="1198.0" r="6.55"/>
<circle cx="1513.8" cy="1302.7" r="6.55"/>
<circle cx="1515.4" cy="1234.5" r="6.55"/>
<circle cx="1517.3" cy="1270.3" r="6.55"/>
<circle cx="1519.5" cy="1311.8" r="6.55"/>
<circle cx="1521.1" cy="1361.3" r="6.55"/>
<circle cx="1522.8" cy="1265.0" r="6.55"/>
<circle cx="1525.4" cy="1285.0" r="6.55"/>
<circle cx="1528.1" cy="1197.4" r="6.55"/>
<circle cx="1530.2" cy="1231.1" r="6.55"/>
<circle cx="1532.1" cy="1130.0" r="6.55"/>
<circle cx="1534.2" cy="1259.1" r="6.55"/>
<circle cx="1535.9" cy="1175.5" r="6.55"/>
<circle cx="1537.6" cy="1210.0" r="6.55"/>
<circle cx="1539.5" cy="1193.8" r="6.55"/>
<circle cx="1541.1" cy="1276.6" r="6.55"/>
<circle cx="1542.8" cy="1271.1" r="6.55"/>
<circle cx="1544.9" cy="1252.8" r="6.55"/>
<circle cx="1546.8" cy="1156.9" r="6.55"/>
<circle cx="1548.5" cy="1379.8" r="6.55"/>
<circle cx="1550.0" cy="1223.3" r="6.55"/>
<circle cx="1551.7" cy="1247.5" r="6.55"/>
<circle cx="1553.2" cy="1228.6" r="6.55"/>
<circle cx="1555.7" cy="1098.4" r="6.55"/>
<circle cx="1558.6" cy="1354.5" r="6.55"/>
<circle cx="1559.9" cy="1232.8" r="6.55"/>
<circle cx="1562.0" cy="1042.1" r="6.55"/>
<circle cx="1563.5" cy="1015.2" r="6.55"/>
<circle cx="1565.6" cy="1077.9" r="6.55"/>
<circle cx="1567.7" cy="1043.2" r="6.55"/>
<circle cx="1569.2" cy="1152.7" r="6.55"/>
<circle cx="1570.9" cy="1207.5" r="6.55"/>
<circle cx="1573.0" cy="1228.1" r="6.55"/>
<circle cx="1574.6" cy="1214.9" r="6.55"/>
<circle cx="1576.5" cy="1107.0" r="6.55"/>
<circle cx="1578.2" cy="1313.3" r="6.55"/>
<circle cx="1580.3" cy="1217.0" r="6.55"/>
<circle cx="1581.8" cy="1238.0" r="6.55"/>
<circle cx="1583.9" cy="1274.5" r="6.55"/>
<circle cx="1585.6" cy="1347.2" r="6.55"/>
<circle cx="1587.7" cy="1221.2" r="6.55"/>
<circle cx="1589.4" cy="1237.6" r="6.55"/>
<circle cx="1591.3" cy="1278.1" r="6.55"/>
<circle cx="1593.0" cy="1270.3" r="6.55"/>
<circle cx="1595.1" cy="1292.4" r="6.55"/>
<circle cx="1596.8" cy="1321.3" r="6.55"/>
<circle cx="1598.7" cy="1285.4" r="6.55"/>
<circle cx="1600.3" cy="1245.0" r="6.55"/>
<circle cx="1602.5" cy="1278.1" r="6.55"/>
<circle cx="1604.1" cy="1272.8" r="6.55"/>
<circle cx="1606.0" cy="1239.1" r="6.55"/>
<circle cx="1608.1" cy="1256.0" r="6.55"/>
<circle cx="1609.8" cy="1312.4" r="6.55"/>
<circle cx="1611.5" cy="1265.0" r="6.55"/>
<circle cx="1613.4" cy="1160.5" r="6.55"/>
<circle cx="1615.1" cy="1313.9" r="6.55"/>
<circle cx="1616.8" cy="1308.2" r="6.55"/>
<circle cx="1618.9" cy="1304.0" r="6.55"/>
<circle cx="1620.8" cy="1449.8" r="6.55"/>
<circle cx="1622.5" cy="1408.0" r="6.55"/>
<circle cx="1624.6" cy="1232.4" r="6.55"/>
<circle cx="1626.3" cy="1440.3" r="6.55"/>
<circle cx="1628.2" cy="1318.1" r="6.55"/>
<circle cx="1629.8" cy="1379.8" r="6.55"/>
<circle cx="1635.5" cy="1285.4" r="6.55"/>
<circle cx="1637.2" cy="1274.9" r="6.55"/>
<circle cx="1639.3" cy="1085.9" r="6.55"/>
<circle cx="1641.0" cy="1091.2" r="6.55"/>
<circle cx="1642.9" cy="1192.1" r="6.55"/>
<circle cx="1644.6" cy="1009.9" r="6.55"/>
<circle cx="1646.7" cy="1270.3" r="6.55"/>
<circle cx="1648.4" cy="1301.7" r="6.55"/>
<circle cx="1650.3" cy="1288.2" r="6.55"/>
<circle cx="1652.4" cy="1289.7" r="6.55"/>
<circle cx="1654.1" cy="1209.6" r="6.55"/>
<circle cx="1655.7" cy="1243.3" r="6.55"/>
<circle cx="1657.6" cy="1296.0" r="6.55"/>
<circle cx="1659.3" cy="1270.7" r="6.55"/>
<circle cx="1661.4" cy="1215.9" r="6.55"/>
<circle cx="1663.1" cy="1285.9" r="6.55"/>
<circle cx="1665.0" cy="1316.0" r="6.55"/>
<circle cx="1667.1" cy="1257.4" r="6.55"/>
<circle cx="1668.8" cy="1243.7" r="6.55"/>
<circle cx="1670.5" cy="1259.1" r="6.55"/>
<circle cx="1672.4" cy="1272.8" r="6.55"/>
<circle cx="1674.1" cy="1263.3" r="6.55"/>
<circle cx="1676.2" cy="1222.2" r="6.55"/>
<circle cx="1677.9" cy="1248.2" r="6.55"/>
<circle cx="1679.8" cy="1300.2" r="6.55"/>
<circle cx="1681.4" cy="1330.3" r="6.55"/>
<circle cx="1683.6" cy="1290.1" r="6.55"/>
<circle cx="1685.7" cy="1205.8" r="6.55"/>
<circle cx="1687.3" cy="1353.3" r="6.55"/>
<circle cx="1690.9" cy="1247.5" r="6.55"/>
<circle cx="1692.6" cy="1251.3" r="6.55"/>
<circle cx="1694.5" cy="1362.8" r="6.55"/>
<circle cx="1696.6" cy="1408.7" r="6.55"/>
<circle cx="1698.3" cy="1361.3" r="6.55"/>
<circle cx="1700.4" cy="1454.0" r="6.55"/>
<circle cx="1702.1" cy="1257.0" r="6.55"/>
<circle cx="1704.0" cy="1214.9" r="6.55"/>
<circle cx="1705.7" cy="1356.0" r="6.55"/>
<circle cx="1707.4" cy="1176.3" r="6.55"/>
<circle cx="1709.5" cy="1270.7" r="6.55"/>
<circle cx="1711.4" cy="1342.7" r="6.55"/>
<circle cx="1713.0" cy="1367.6" r="6.55"/>
<circle cx="1715.2" cy="1358.1" r="6.55"/>
<circle cx="1716.8" cy="1376.0" r="6.55"/>
<circle cx="1718.7" cy="1388.2" r="6.55"/>
<circle cx="1720.4" cy="1300.2" r="6.55"/>
<circle cx="1722.1" cy="1322.3" r="6.55"/>
<circle cx="1724.0" cy="1288.2" r="6.55"/>
<circle cx="1725.7" cy="1308.2" r="6.55"/>
<circle cx="1727.4" cy="1342.7" r="6.55"/>
<circle cx="1729.5" cy="1276.0" r="6.55"/>
<circle cx="1731.4" cy="1288.2" r="6.55"/>
<circle cx="1733.1" cy="1314.9" r="6.55"/>
<circle cx="1734.7" cy="1308.6" r="6.55"/>
<circle cx="1736.6" cy="1266.1" r="6.55"/>
<circle cx="1739.0" cy="1156.9" r="6.55"/>
<circle cx="1740.9" cy="1106.8" r="6.55"/>
<circle cx="1742.5" cy="1251.1" r="6.55"/>
<circle cx="1744.6" cy="1350.3" r="6.55"/>
<circle cx="1746.3" cy="1264.8" r="6.55"/>
<circle cx="1748.2" cy="1305.5" r="6.55"/>
<circle cx="1750.3" cy="1138.4" r="6.55"/>
<circle cx="1752.0" cy="1105.3" r="6.55"/>
<circle cx="1753.7" cy="1284.0" r="6.55"/>
<circle cx="1755.6" cy="1242.7" r="6.55"/>
<circle cx="1757.3" cy="1211.1" r="6.55"/>
<circle cx="1759.4" cy="1248.2" r="6.55"/>
<circle cx="1761.1" cy="1338.5" r="6.55"/>
<circle cx="1763.0" cy="1400.9" r="6.55"/>
<circle cx="1764.7" cy="1327.6" r="6.55"/>
<circle cx="1766.8" cy="1401.7" r="6.55"/>
<circle cx="1768.5" cy="1353.9" r="6.55"/>
<circle cx="1770.3" cy="1257.0" r="6.55"/>
<circle cx="1772.0" cy="1276.0" r="6.55"/>
<circle cx="1774.1" cy="1245.8" r="6.55"/>
<circle cx="1775.8" cy="1331.4" r="6.55"/>
<circle cx="1777.7" cy="1192.8" r="6.55"/>
<circle cx="1779.4" cy="1420.7" r="6.55"/>
<circle cx="1781.5" cy="1144.7" r="6.55"/>
<circle cx="1783.2" cy="1186.9" r="6.55"/>
<circle cx="1785.1" cy="1282.9" r="6.55"/>
<circle cx="1786.8" cy="1310.3" r="6.55"/>
<circle cx="1788.5" cy="1280.8" r="6.55"/>
<circle cx="1790.4" cy="1294.3" r="6.55"/>
<circle cx="1792.5" cy="1315.4" r="6.55"/>
<circle cx="1794.2" cy="1333.5" r="6.55"/>
<circle cx="1796.3" cy="1330.3" r="6.55"/>
<circle cx="1797.9" cy="1304.8" r="6.55"/>
<circle cx="1799.8" cy="1256.6" r="6.55"/>
<circle cx="1801.5" cy="1234.9" r="6.55"/>
<circle cx="1803.6" cy="1250.7" r="6.55"/>
<circle cx="1805.3" cy="1215.3" r="6.55"/>
<circle cx="1807.2" cy="1171.1" r="6.55"/>
<circle cx="1808.9" cy="1238.5" r="6.55"/>
<circle cx="1811.0" cy="1227.9" r="6.55"/>
<circle cx="1812.7" cy="1352.9" r="6.55"/>
<circle cx="1814.6" cy="1300.2" r="6.55"/>
<circle cx="1816.3" cy="1310.3" r="6.55"/>
<circle cx="1818.0" cy="1357.1" r="6.55"/>
<circle cx="1820.1" cy="1290.7" r="6.55"/>
<circle cx="1822.0" cy="1330.7" r="6.55"/>
<circle cx="1823.6" cy="1363.8" r="6.55"/>
<circle cx="1825.8" cy="1372.4" r="6.55"/>
<circle cx="1827.4" cy="1393.3" r="6.55"/>
<circle cx="1829.5" cy="1253.4" r="6.55"/>
<circle cx="1831.4" cy="1305.5" r="6.55"/>
<circle cx="1833.1" cy="1227.1" r="6.55"/>
<circle cx="1835.2" cy="1352.4" r="6.55"/>
<circle cx="1836.7" cy="1215.9" r="6.55"/>
<circle cx="1838.4" cy="1238.7" r="6.55"/>
<circle cx="1840.5" cy="1289.0" r="6.55"/>
<circle cx="1842.2" cy="1291.8" r="6.55"/>
<circle cx="1844.3" cy="1296.0" r="6.55"/>
<circle cx="1846.2" cy="1233.8" r="6.55"/>
<circle cx="1847.9" cy="1228.1" r="6.55"/>
<circle cx="1849.6" cy="1219.5" r="6.55"/>
<circle cx="1851.7" cy="1161.2" r="6.55"/>
<circle cx="1493.3" cy="1518.9" r="6.55"/>
<circle cx="1478.5" cy="1536.1" r="6.55"/>
<circle cx="1486.0" cy="1547.1" r="6.55"/>
<circle cx="1482.3" cy="1556.7" r="6.55"/>
<circle cx="1484.2" cy="1581.5" r="6.55"/>
<circle cx="1631.9" cy="1522.1" r="6.55"/>
<circle cx="1633.7" cy="1548.6" r="6.55"/>
<circle cx="573.6" cy="1620.4" r="6.55"/>
</g>
<g stroke="#000" stroke-width="2.67" stroke-linecap="butt">
<path d="M257.90 995.0V975.80M257.90 1632.75V1651.95"/>
<path d="M302.22 995.0V985.20M302.22 1632.75V1642.55"/>
<path d="M346.54 995.0V985.20M346.54 1632.75V1642.55"/>
<path d="M390.87 995.0V975.80M390.87 1632.75V1651.95"/>
<path d="M435.19 995.0V985.20M435.19 1632.75V1642.55"/>
<path d="M479.51 995.0V985.20M479.51 1632.75V1642.55"/>
<path d="M523.83 995.0V975.80M523.83 1632.75V1651.95"/>
<path d="M568.15 995.0V985.20M568.15 1632.75V1642.55"/>
<path d="M612.48 995.0V985.20M612.48 1632.75V1642.55"/>
<path d="M656.80 995.0V975.80M656.80 1632.75V1651.95"/>
<path d="M701.12 995.0V985.20M701.12 1632.75V1642.55"/>
<path d="M745.44 995.0V985.20M745.44 1632.75V1642.55"/>
<path d="M789.76 995.0V975.80M789.76 1632.75V1651.95"/>
<path d="M834.09 995.0V985.20M834.09 1632.75V1642.55"/>
<path d="M878.41 995.0V985.20M878.41 1632.75V1642.55"/>
<path d="M922.73 995.0V975.80M922.73 1632.75V1651.95"/>
<path d="M967.05 995.0V985.20M967.05 1632.75V1642.55"/>
<path d="M1011.37 995.0V985.20M1011.37 1632.75V1642.55"/>
<path d="M1055.70 995.0V975.80M1055.70 1632.75V1651.95"/>
<path d="M1100.02 995.0V985.20M1100.02 1632.75V1642.55"/>
<path d="M1144.34 995.0V985.20M1144.34 1632.75V1642.55"/>
<path d="M1188.66 995.0V975.80M1188.66 1632.75V1651.95"/>
<path d="M1232.98 995.0V985.20M1232.98 1632.75V1642.55"/>
<path d="M1277.31 995.0V985.20M1277.31 1632.75V1642.55"/>
<path d="M1321.63 995.0V975.80M1321.63 1632.75V1651.95"/>
<path d="M1365.95 995.0V985.20M1365.95 1632.75V1642.55"/>
<path d="M1410.27 995.0V985.20M1410.27 1632.75V1642.55"/>
<path d="M1454.59 995.0V975.80M1454.59 1632.75V1651.95"/>
<path d="M1498.92 995.0V985.20M1498.92 1632.75V1642.55"/>
<path d="M1543.24 995.0V985.20M1543.24 1632.75V1642.55"/>
<path d="M1587.56 995.0V975.80M1587.56 1632.75V1651.95"/>
<path d="M1631.88 995.0V985.20M1631.88 1632.75V1642.55"/>
<path d="M1676.20 995.0V985.20M1676.20 1632.75V1642.55"/>
<path d="M1720.53 995.0V975.80M1720.53 1632.75V1651.95"/>
<path d="M1764.85 995.0V985.20M1764.85 1632.75V1642.55"/>
<path d="M1809.17 995.0V985.20M1809.17 1632.75V1642.55"/>
<path d="M1853.49 995.0V975.80M1853.49 1632.75V1651.95"/>
<path d="M226.0 1063.44H206.80M1883.5 1063.44H1902.70"/>
<path d="M226.0 1156.37H206.80M1883.5 1156.37H1902.70"/>
<path d="M226.0 1249.30H206.80M1883.5 1249.30H1902.70"/>
<path d="M226.0 1342.23H206.80M1883.5 1342.23H1902.70"/>
<path d="M226.0 1435.16H206.80M1883.5 1435.16H1902.70"/>
<path d="M226.0 1528.09H206.80M1883.5 1528.09H1902.70"/>
<path d="M226.0 1621.02H206.80M1883.5 1621.02H1902.70"/>
</g>
<rect x="226.0" y="995.0" width="1657.5" height="637.75" fill="none" stroke="#000" stroke-width="5.9"/>
<text class="b" font-size="42.67" text-anchor="middle" transform="translate(257.9 1699.0) scale(1 1.05)">0</text>
<text class="b" font-size="42.67" text-anchor="middle" transform="translate(390.9 1699.0) scale(1 1.05)">6</text>
<text class="b" font-size="42.67" text-anchor="middle" transform="translate(523.8 1699.0) scale(1 1.05)">12</text>
<text class="b" font-size="42.67" text-anchor="middle" transform="translate(656.8 1699.0) scale(1 1.05)">18</text>
<text class="b" font-size="42.67" text-anchor="middle" transform="translate(789.8 1699.0) scale(1 1.05)">24</text>
<text class="b" font-size="42.67" text-anchor="middle" transform="translate(922.7 1699.0) scale(1 1.05)">30</text>
<text class="b" font-size="42.67" text-anchor="middle" transform="translate(1055.7 1699.0) scale(1 1.05)">36</text>
<text class="b" font-size="42.67" text-anchor="middle" transform="translate(1188.7 1699.0) scale(1 1.05)">42</text>
<text class="b" font-size="42.67" text-anchor="middle" transform="translate(1321.6 1699.0) scale(1 1.05)">48</text>
<text class="b" font-size="42.67" text-anchor="middle" transform="translate(1454.6 1699.0) scale(1 1.05)">54</text>
<text class="b" font-size="42.67" text-anchor="middle" transform="translate(1587.6 1699.0) scale(1 1.05)">60</text>
<text class="b" font-size="42.67" text-anchor="middle" transform="translate(1720.5 1699.0) scale(1 1.05)">66</text>
<text class="b" font-size="42.67" text-anchor="middle" transform="translate(1853.5 1699.0) scale(1 1.05)">72</text>
<text class="b" font-size="42.67" text-anchor="end" transform="translate(190.3 1078.7) scale(1 1.05)">20</text>
<text class="b" font-size="42.67" text-anchor="end" transform="translate(190.3 1171.7) scale(1 1.05)">10</text>
<text class="b" font-size="42.67" text-anchor="end" transform="translate(190.3 1264.6) scale(1 1.05)">0</text>
<rect x="120.3" y="1345.18" width="21.6" height="5.1" fill="#000"/>
<text class="b" font-size="42.67" text-anchor="end" transform="translate(190.3 1357.5) scale(1 1.05)">10</text>
<rect x="120.3" y="1438.11" width="21.6" height="5.1" fill="#000"/>
<text class="b" font-size="42.67" text-anchor="end" transform="translate(190.3 1450.5) scale(1 1.05)">20</text>
<rect x="120.3" y="1531.04" width="21.6" height="5.1" fill="#000"/>
<text class="b" font-size="42.67" text-anchor="end" transform="translate(190.3 1543.4) scale(1 1.05)">30</text>
<rect x="120.3" y="1623.97" width="21.6" height="5.1" fill="#000"/>
<text class="b" font-size="42.67" text-anchor="end" transform="translate(190.3 1636.3) scale(1 1.05)">40</text>
<text font-size="42.67" text-anchor="middle" transform="translate(89.9 1313.9) rotate(-90) scale(1 1.05)">North (mm)</text>
<g fill="#0000ff">
<circle cx="257.6" cy="2298.0" r="6.55"/>
<circle cx="259.7" cy="2287.5" r="6.55"/>
<circle cx="261.8" cy="2301.2" r="6.55"/>
<circle cx="263.5" cy="2279.5" r="6.55"/>
<circle cx="265.4" cy="2305.4" r="6.55"/>
<circle cx="267.1" cy="2319.1" r="6.55"/>
<circle cx="269.2" cy="2291.3" r="6.55"/>
<circle cx="270.9" cy="2311.7" r="6.55"/>
<circle cx="272.8" cy="2255.5" r="6.55"/>
<circle cx="274.5" cy="2312.8" r="6.55"/>
<circle cx="276.1" cy="2266.4" r="6.55"/>
<circle cx="278.0" cy="2303.3" r="6.55"/>
<circle cx="280.1" cy="2323.7" r="6.55"/>
<circle cx="281.8" cy="2251.7" r="6.55"/>
<circle cx="283.5" cy="2259.0" r="6.55"/>
<circle cx="285.6" cy="2295.9" r="6.55"/>
<circle cx="287.1" cy="2263.2" r="6.55"/>
<circle cx="288.8" cy="2229.5" r="6.55"/>
<circle cx="290.9" cy="2272.7" r="6.55"/>
<circle cx="293.0" cy="2222.2" r="6.55"/>
<circle cx="294.5" cy="2259.0" r="6.55"/>
<circle cx="296.6" cy="2253.8" r="6.55"/>
<circle cx="298.3" cy="2272.7" r="6.55"/>
<circle cx="300.2" cy="2229.5" r="6.55"/>
<circle cx="301.8" cy="2239.0" r="6.55"/>
<circle cx="303.9" cy="2270.6" r="6.55"/>
<circle cx="306.1" cy="2241.1" r="6.55"/>
<circle cx="307.7" cy="2249.6" r="6.55"/>
<circle cx="309.6" cy="2244.3" r="6.55"/>
<circle cx="311.7" cy="2246.4" r="6.55"/>
<circle cx="313.4" cy="2222.8" r="6.55"/>
<circle cx="315.1" cy="2242.2" r="6.55"/>
<circle cx="317.0" cy="2266.0" r="6.55"/>
<circle cx="318.7" cy="2289.6" r="6.55"/>
<circle cx="320.4" cy="2271.7" r="6.55"/>
<circle cx="322.3" cy="2287.5" r="6.55"/>
<circle cx="324.4" cy="2248.9" r="6.55"/>
<circle cx="326.1" cy="2278.0" r="6.55"/>
<circle cx="328.2" cy="2332.3" r="6.55"/>
<circle cx="329.9" cy="2301.2" r="6.55"/>
<circle cx="331.8" cy="2285.4" r="6.55"/>
<circle cx="333.4" cy="2381.2" r="6.55"/>
<circle cx="335.1" cy="2341.2" r="6.55"/>
<circle cx="337.0" cy="2348.1" r="6.55"/>
<circle cx="339.1" cy="2297.0" r="6.55"/>
<circle cx="340.8" cy="2401.7" r="6.55"/>
<circle cx="342.5" cy="2311.1" r="6.55"/>
<circle cx="344.6" cy="2286.4" r="6.55"/>
<circle cx="346.5" cy="2343.3" r="6.55"/>
<circle cx="348.2" cy="2339.1" r="6.55"/>
<circle cx="350.3" cy="2310.6" r="6.55"/>
<circle cx="352.0" cy="2334.9" r="6.55"/>
<circle cx="353.9" cy="2330.7" r="6.55"/>
<circle cx="355.6" cy="2315.9" r="6.55"/>
<circle cx="357.2" cy="2288.5" r="6.55"/>
<circle cx="359.3" cy="2311.7" r="6.55"/>
<circle cx="361.2" cy="2282.2" r="6.55"/>
<circle cx="362.9" cy="2260.7" r="6.55"/>
<circle cx="364.6" cy="2312.8" r="6.55"/>
<circle cx="366.5" cy="2288.5" r="6.55"/>
<circle cx="368.6" cy="2300.1" r="6.55"/>
<circle cx="370.3" cy="2251.7" r="6.55"/>
<circle cx="372.4" cy="2286.4" r="6.55"/>
<circle cx="374.1" cy="2279.0" r="6.55"/>
<circle cx="376.2" cy="2253.8" r="6.55"/>
<circle cx="377.7" cy="2281.2" r="6.55"/>
<circle cx="379.8" cy="2238.0" r="6.55"/>
<circle cx="381.5" cy="2265.4" r="6.55"/>
<circle cx="383.4" cy="2289.2" r="6.55"/>
<circle cx="385.0" cy="2247.4" r="6.55"/>
<circle cx="387.2" cy="2267.5" r="6.55"/>
<circle cx="388.8" cy="2279.0" r="6.55"/>
<circle cx="390.7" cy="2235.4" r="6.55"/>
<circle cx="392.8" cy="2254.8" r="6.55"/>
<circle cx="394.5" cy="2253.8" r="6.55"/>
<circle cx="396.2" cy="2269.6" r="6.55"/>
<circle cx="398.3" cy="2266.8" r="6.55"/>
<circle cx="400.0" cy="2293.8" r="6.55"/>
<circle cx="401.9" cy="2324.3" r="6.55"/>
<circle cx="403.6" cy="2349.6" r="6.55"/>
<circle cx="405.5" cy="2319.1" r="6.55"/>
<circle cx="407.2" cy="2286.4" r="6.55"/>
<circle cx="409.3" cy="2292.7" r="6.55"/>
<circle cx="411.0" cy="2310.6" r="6.55"/>
<circle cx="412.9" cy="2299.1" r="6.55"/>
<circle cx="414.5" cy="2288.5" r="6.55"/>
<circle cx="416.2" cy="2258.0" r="6.55"/>
<circle cx="418.3" cy="2278.4" r="6.55"/>
<circle cx="420.2" cy="2260.1" r="6.55"/>
<circle cx="421.9" cy="2246.4" r="6.55"/>
<circle cx="424.0" cy="2221.5" r="6.55"/>
<circle cx="425.7" cy="2247.4" r="6.55"/>
<circle cx="427.6" cy="2248.5" r="6.55"/>
<circle cx="429.3" cy="2259.0" r="6.55"/>
<circle cx="431.0" cy="2258.0" r="6.55"/>
<circle cx="433.5" cy="2259.0" r="6.55"/>
<circle cx="435.2" cy="2270.6" r="6.55"/>
<circle cx="437.1" cy="2275.9" r="6.55"/>
<circle cx="438.8" cy="2285.4" r="6.55"/>
<circle cx="440.5" cy="2305.4" r="6.55"/>
<circle cx="442.6" cy="2269.6" r="6.55"/>
<circle cx="444.0" cy="2239.0" r="6.55"/>
<circle cx="445.7" cy="2221.7" r="6.55"/>
<circle cx="447.8" cy="2209.5" r="6.55"/>
<circle cx="449.7" cy="2218.0" r="6.55"/>
<circle cx="451.4" cy="2223.2" r="6.55"/>
<circle cx="453.1" cy="2237.5" r="6.55"/>
<circle cx="455.2" cy="2226.4" r="6.55"/>
<circle cx="457.3" cy="2182.1" r="6.55"/>
<circle cx="459.2" cy="2199.0" r="6.55"/>
<circle cx="460.9" cy="2292.7" r="6.55"/>
<circle cx="463.0" cy="2264.3" r="6.55"/>
<circle cx="464.5" cy="2321.6" r="6.55"/>
<circle cx="466.2" cy="2276.5" r="6.55"/>
<circle cx="468.3" cy="2295.9" r="6.55"/>
<circle cx="469.9" cy="2299.1" r="6.55"/>
<circle cx="471.8" cy="2274.8" r="6.55"/>
<circle cx="473.9" cy="2269.1" r="6.55"/>
<circle cx="475.6" cy="2334.5" r="6.55"/>
<circle cx="477.3" cy="2281.2" r="6.55"/>
<circle cx="479.4" cy="2291.7" r="6.55"/>
<circle cx="481.3" cy="2299.1" r="6.55"/>
<circle cx="483.0" cy="2303.3" r="6.55"/>
<circle cx="485.1" cy="2335.9" r="6.55"/>
<circle cx="486.8" cy="2306.4" r="6.55"/>
<circle cx="488.7" cy="2278.4" r="6.55"/>
<circle cx="490.4" cy="2246.4" r="6.55"/>
<circle cx="492.1" cy="2313.8" r="6.55"/>
<circle cx="494.0" cy="2295.9" r="6.55"/>
<circle cx="496.1" cy="2312.1" r="6.55"/>
<circle cx="497.8" cy="2323.7" r="6.55"/>
<circle cx="499.4" cy="2247.4" r="6.55"/>
<circle cx="501.3" cy="2267.5" r="6.55"/>
<circle cx="503.4" cy="2224.7" r="6.55"/>
<circle cx="505.1" cy="2276.9" r="6.55"/>
<circle cx="507.2" cy="2258.4" r="6.55"/>
<circle cx="508.9" cy="2212.7" r="6.55"/>
<circle cx="510.8" cy="2193.7" r="6.55"/>
<circle cx="512.5" cy="2223.6" r="6.55"/>
<circle cx="514.6" cy="2303.3" r="6.55"/>
<circle cx="516.7" cy="2288.1" r="6.55"/>
<circle cx="518.4" cy="2302.9" r="6.55"/>
<circle cx="520.3" cy="2275.5" r="6.55"/>
<circle cx="522.0" cy="2315.3" r="6.55"/>
<circle cx="523.7" cy="2299.1" r="6.55"/>
<circle cx="525.8" cy="2383.3" r="6.55"/>
<circle cx="527.7" cy="2304.3" r="6.55"/>
<circle cx="529.4" cy="2361.8" r="6.55"/>
<circle cx="531.0" cy="2272.7" r="6.55"/>
<circle cx="532.9" cy="2354.9" r="6.55"/>
<circle cx="535.0" cy="2299.7" r="6.55"/>
<circle cx="536.7" cy="2275.9" r="6.55"/>
<circle cx="538.4" cy="2348.1" r="6.55"/>
<circle cx="540.5" cy="2342.7" r="6.55"/>
<circle cx="542.4" cy="2314.9" r="6.55"/>
<circle cx="544.1" cy="2268.5" r="6.55"/>
<circle cx="546.2" cy="2290.2" r="6.55"/>
<circle cx="547.9" cy="2318.0" r="6.55"/>
<circle cx="549.8" cy="2303.3" r="6.55"/>
<circle cx="551.5" cy="2288.5" r="6.55"/>
<circle cx="553.2" cy="2306.4" r="6.55"/>
<circle cx="555.3" cy="2287.5" r="6.55"/>
<circle cx="556.7" cy="2328.6" r="6.55"/>
<circle cx="559.7" cy="2312.1" r="6.55"/>
<circle cx="562.2" cy="2338.0" r="6.55"/>
<circle cx="564.3" cy="2273.8" r="6.55"/>
<circle cx="566.0" cy="2325.4" r="6.55"/>
<circle cx="567.9" cy="2351.3" r="6.55"/>
<circle cx="569.6" cy="2330.7" r="6.55"/>
<circle cx="571.7" cy="2287.5" r="6.55"/>
<circle cx="573.4" cy="2332.8" r="6.55"/>
<circle cx="575.3" cy="2294.8" r="6.55"/>
<circle cx="577.0" cy="2304.3" r="6.55"/>
<circle cx="579.1" cy="2347.5" r="6.55"/>
<circle cx="580.8" cy="2272.7" r="6.55"/>
<circle cx="582.9" cy="2295.9" r="6.55"/>
<circle cx="584.8" cy="2392.8" r="6.55"/>
<circle cx="586.4" cy="2327.1" r="6.55"/>
<circle cx="588.1" cy="2346.5" r="6.55"/>
<circle cx="590.0" cy="2352.8" r="6.55"/>
<circle cx="591.7" cy="2309.0" r="6.55"/>
<circle cx="593.8" cy="2280.1" r="6.55"/>
<circle cx="595.5" cy="2335.5" r="6.55"/>
<circle cx="597.4" cy="2318.0" r="6.55"/>
<circle cx="599.5" cy="2372.8" r="6.55"/>
<circle cx="601.2" cy="2298.4" r="6.55"/>
<circle cx="603.3" cy="2366.5" r="6.55"/>
<circle cx="605.0" cy="2370.7" r="6.55"/>
<circle cx="606.9" cy="2310.6" r="6.55"/>
<circle cx="608.6" cy="2347.5" r="6.55"/>
<circle cx="610.2" cy="2285.8" r="6.55"/>
<circle cx="612.4" cy="2339.1" r="6.55"/>
<circle cx="614.2" cy="2265.8" r="6.55"/>
<circle cx="615.9" cy="2313.8" r="6.55"/>
<circle cx="618.0" cy="2299.1" r="6.55"/>
<circle cx="619.7" cy="2310.6" r="6.55"/>
<circle cx="621.6" cy="2321.2" r="6.55"/>
<circle cx="623.3" cy="2326.0" r="6.55"/>
<circle cx="625.0" cy="2275.3" r="6.55"/>
<circle cx="627.1" cy="2283.7" r="6.55"/>
<circle cx="629.0" cy="2317.0" r="6.55"/>
<circle cx="630.7" cy="2281.2" r="6.55"/>
<circle cx="632.4" cy="2306.4" r="6.55"/>
<circle cx="634.5" cy="2260.1" r="6.55"/>
<circle cx="636.4" cy="2286.4" r="6.55"/>
<circle cx="638.1" cy="2291.7" r="6.55"/>
<circle cx="640.2" cy="2319.5" r="6.55"/>
<circle cx="641.8" cy="2361.2" r="6.55"/>
<circle cx="643.7" cy="2340.1" r="6.55"/>
<circle cx="645.4" cy="2339.1" r="6.55"/>
<circle cx="647.5" cy="2278.0" r="6.55"/>
<circle cx="649.2" cy="2282.2" r="6.55"/>
<circle cx="651.1" cy="2286.4" r="6.55"/>
<circle cx="652.8" cy="2290.6" r="6.55"/>
<circle cx="654.5" cy="2264.9" r="6.55"/>
<circle cx="656.4" cy="2301.2" r="6.55"/>
<circle cx="658.1" cy="2298.0" r="6.55"/>
<circle cx="660.2" cy="2313.2" r="6.55"/>
<circle cx="661.9" cy="2301.2" r="6.55"/>
<circle cx="663.8" cy="2297.0" r="6.55"/>
<circle cx="665.9" cy="2302.2" r="6.55"/>
<circle cx="667.5" cy="2262.2" r="6.55"/>
<circle cx="669.2" cy="2274.8" r="6.55"/>
<circle cx="671.1" cy="2263.2" r="6.55"/>
<circle cx="672.8" cy="2276.9" r="6.55"/>
<circle cx="674.9" cy="2250.6" r="6.55"/>
<circle cx="676.6" cy="2260.1" r="6.55"/>
<circle cx="678.5" cy="2327.1" r="6.55"/>
<circle cx="680.2" cy="2256.9" r="6.55"/>
<circle cx="682.3" cy="2267.5" r="6.55"/>
<circle cx="684.0" cy="2258.0" r="6.55"/>
<circle cx="685.9" cy="2282.8" r="6.55"/>
<circle cx="687.6" cy="2273.8" r="6.55"/>
<circle cx="690.1" cy="2309.2" r="6.55"/>
<circle cx="691.8" cy="2278.0" r="6.55"/>
<circle cx="693.5" cy="2268.9" r="6.55"/>
<circle cx="695.4" cy="2235.9" r="6.55"/>
<circle cx="697.5" cy="2275.5" r="6.55"/>
<circle cx="699.1" cy="2241.1" r="6.55"/>
<circle cx="700.8" cy="2253.8" r="6.55"/>
<circle cx="702.7" cy="2222.2" r="6.55"/>
<circle cx="704.4" cy="2256.9" r="6.55"/>
<circle cx="706.5" cy="2202.8" r="6.55"/>
<circle cx="708.2" cy="2265.4" r="6.55"/>
<circle cx="710.1" cy="2254.8" r="6.55"/>
<circle cx="711.8" cy="2263.2" r="6.55"/>
<circle cx="713.5" cy="2258.0" r="6.55"/>
<circle cx="715.6" cy="2212.3" r="6.55"/>
<circle cx="717.5" cy="2248.5" r="6.55"/>
<circle cx="719.2" cy="2260.1" r="6.55"/>
<circle cx="720.8" cy="2273.8" r="6.55"/>
<circle cx="722.7" cy="2262.2" r="6.55"/>
<circle cx="724.8" cy="2289.2" r="6.55"/>
<circle cx="726.5" cy="2271.3" r="6.55"/>
<circle cx="728.2" cy="2263.2" r="6.55"/>
<circle cx="730.3" cy="2248.5" r="6.55"/>
<circle cx="732.2" cy="2264.9" r="6.55"/>
<circle cx="734.3" cy="2212.1" r="6.55"/>
<circle cx="736.0" cy="2240.5" r="6.55"/>
<circle cx="737.7" cy="2260.1" r="6.55"/>
<circle cx="739.6" cy="2261.1" r="6.55"/>
<circle cx="741.3" cy="2276.3" r="6.55"/>
<circle cx="743.4" cy="2248.5" r="6.55"/>
<circle cx="745.1" cy="2229.1" r="6.55"/>
<circle cx="747.0" cy="2211.2" r="6.55"/>
<circle cx="749.1" cy="2245.3" r="6.55"/>
<circle cx="750.8" cy="2244.3" r="6.55"/>
<circle cx="752.4" cy="2223.2" r="6.55"/>
<circle cx="754.5" cy="2233.8" r="6.55"/>
<circle cx="756.4" cy="2308.5" r="6.55"/>
<circle cx="758.1" cy="2294.4" r="6.55"/>
<circle cx="759.8" cy="2272.7" r="6.55"/>
<circle cx="761.7" cy="2243.9" r="6.55"/>
<circle cx="763.4" cy="2269.6" r="6.55"/>
<circle cx="765.5" cy="2256.9" r="6.55"/>
<circle cx="767.2" cy="2272.7" r="6.55"/>
<circle cx="769.1" cy="2259.0" r="6.55"/>
<circle cx="770.8" cy="2251.7" r="6.55"/>
<circle cx="772.9" cy="2274.8" r="6.55"/>
<circle cx="774.6" cy="2275.9" r="6.55"/>
<circle cx="776.5" cy="2292.7" r="6.55"/>
<circle cx="778.1" cy="2283.3" r="6.55"/>
<circle cx="780.2" cy="2312.3" r="6.55"/>
<circle cx="781.9" cy="2261.1" r="6.55"/>
<circle cx="783.8" cy="2264.3" r="6.55"/>
<circle cx="785.9" cy="2282.2" r="6.55"/>
<circle cx="787.6" cy="2266.4" r="6.55"/>
<circle cx="789.3" cy="2285.4" r="6.55"/>
<circle cx="791.2" cy="2307.1" r="6.55"/>
<circle cx="792.9" cy="2265.8" r="6.55"/>
<circle cx="795.0" cy="2302.6" r="6.55"/>
<circle cx="796.7" cy="2337.0" r="6.55"/>
<circle cx="798.8" cy="2360.6" r="6.55"/>
<circle cx="800.7" cy="2349.0" r="6.55"/>
<circle cx="802.4" cy="2337.0" r="6.55"/>
<circle cx="804.1" cy="2325.4" r="6.55"/>
<circle cx="806.2" cy="2294.2" r="6.55"/>
<circle cx="808.1" cy="2311.7" r="6.55"/>
<circle cx="809.7" cy="2322.2" r="6.55"/>
<circle cx="811.4" cy="2325.4" r="6.55"/>
<circle cx="813.3" cy="2330.7" r="6.55"/>
<circle cx="815.4" cy="2318.0" r="6.55"/>
<circle cx="817.1" cy="2283.3" r="6.55"/>
<circle cx="818.8" cy="2287.5" r="6.55"/>
<circle cx="820.9" cy="2326.4" r="6.55"/>
<circle cx="822.8" cy="2272.7" r="6.55"/>
<circle cx="824.5" cy="2291.7" r="6.55"/>
<circle cx="826.2" cy="2278.0" r="6.55"/>
<circle cx="828.3" cy="2281.2" r="6.55"/>
<circle cx="830.2" cy="2293.8" r="6.55"/>
<circle cx="831.9" cy="2292.7" r="6.55"/>
<circle cx="833.5" cy="2256.9" r="6.55"/>
<circle cx="835.6" cy="2265.4" r="6.55"/>
<circle cx="837.5" cy="2252.7" r="6.55"/>
<circle cx="839.7" cy="2290.6" r="6.55"/>
<circle cx="841.3" cy="2269.6" r="6.55"/>
<circle cx="843.0" cy="2244.9" r="6.55"/>
<circle cx="844.9" cy="2266.4" r="6.55"/>
<circle cx="846.6" cy="2247.4" r="6.55"/>
<circle cx="848.7" cy="2248.9" r="6.55"/>
<circle cx="850.8" cy="2279.0" r="6.55"/>
<circle cx="852.5" cy="2313.8" r="6.55"/>
<circle cx="854.4" cy="2276.9" r="6.55"/>
<circle cx="856.5" cy="2258.0" r="6.55"/>
<circle cx="858.2" cy="2343.9" r="6.55"/>
<circle cx="859.9" cy="2313.8" r="6.55"/>
<circle cx="861.8" cy="2352.8" r="6.55"/>
<circle cx="863.5" cy="2357.0" r="6.55"/>
<circle cx="865.6" cy="2383.7" r="6.55"/>
<circle cx="867.2" cy="2349.2" r="6.55"/>
<circle cx="869.1" cy="2273.4" r="6.55"/>
<circle cx="870.8" cy="2263.9" r="6.55"/>
<circle cx="872.9" cy="2290.6" r="6.55"/>
<circle cx="874.6" cy="2337.0" r="6.55"/>
<circle cx="876.7" cy="2288.5" r="6.55"/>
<circle cx="878.2" cy="2327.5" r="6.55"/>
<circle cx="880.3" cy="2298.0" r="6.55"/>
<circle cx="882.0" cy="2288.5" r="6.55"/>
<circle cx="883.9" cy="2347.5" r="6.55"/>
<circle cx="885.6" cy="2283.3" r="6.55"/>
<circle cx="887.7" cy="2303.3" r="6.55"/>
<circle cx="889.4" cy="2266.4" r="6.55"/>
<circle cx="892.1" cy="2259.0" r="6.55"/>
<circle cx="894.2" cy="2265.4" r="6.55"/>
<circle cx="896.3" cy="2254.8" r="6.55"/>
<circle cx="898.4" cy="2268.5" r="6.55"/>
<circle cx="900.1" cy="2226.4" r="6.55"/>
<circle cx="902.0" cy="2275.9" r="6.55"/>
<circle cx="903.7" cy="2251.7" r="6.55"/>
<circle cx="905.8" cy="2268.5" r="6.55"/>
<circle cx="907.5" cy="2270.6" r="6.55"/>
<circle cx="909.4" cy="2216.9" r="6.55"/>
<circle cx="911.1" cy="2271.7" r="6.55"/>
<circle cx="913.2" cy="2293.8" r="6.55"/>
<circle cx="914.9" cy="2232.7" r="6.55"/>
<circle cx="916.8" cy="2274.8" r="6.55"/>
<circle cx="918.4" cy="2223.2" r="6.55"/>
<circle cx="920.1" cy="2225.3" r="6.55"/>
<circle cx="922.2" cy="2287.5" r="6.55"/>
<circle cx="924.1" cy="2234.8" r="6.55"/>
<circle cx="926.2" cy="2253.1" r="6.55"/>
<circle cx="927.9" cy="2270.0" r="6.55"/>
<circle cx="929.6" cy="2305.4" r="6.55"/>
<circle cx="931.7" cy="2315.5" r="6.55"/>
<circle cx="933.6" cy="2284.3" r="6.55"/>
<circle cx="935.3" cy="2292.7" r="6.55"/>
<circle cx="937.4" cy="2266.4" r="6.55"/>
<circle cx="939.1" cy="2303.3" r="6.55"/>
<circle cx="941.0" cy="2274.8" r="6.55"/>
<circle cx="942.7" cy="2301.2" r="6.55"/>
<circle cx="944.4" cy="2282.2" r="6.55"/>
<circle cx="946.5" cy="2253.8" r="6.55"/>
<circle cx="948.4" cy="2278.0" r="6.55"/>
<circle cx="950.0" cy="2263.2" r="6.55"/>
<circle cx="951.7" cy="2223.9" r="6.55"/>
<circle cx="953.8" cy="2304.3" r="6.55"/>
<circle cx="955.7" cy="2247.4" r="6.55"/>
<circle cx="957.4" cy="2276.9" r="6.55"/>
<circle cx="959.1" cy="2281.2" r="6.55"/>
<circle cx="961.2" cy="2283.3" r="6.55"/>
<circle cx="963.1" cy="2246.4" r="6.55"/>
<circle cx="964.8" cy="2287.5" r="6.55"/>
<circle cx="966.5" cy="2290.6" r="6.55"/>
<circle cx="968.4" cy="2288.5" r="6.55"/>
<circle cx="970.1" cy="2252.7" r="6.55"/>
<circle cx="971.7" cy="2274.8" r="6.55"/>
<circle cx="973.6" cy="2266.4" r="6.55"/>
<circle cx="975.3" cy="2282.2" r="6.55"/>
<circle cx="977.8" cy="2226.0" r="6.55"/>
<circle cx="979.5" cy="2248.5" r="6.55"/>
<circle cx="981.2" cy="2283.3" r="6.55"/>
<circle cx="983.3" cy="2294.8" r="6.55"/>
<circle cx="985.2" cy="2274.8" r="6.55"/>
<circle cx="986.9" cy="2243.2" r="6.55"/>
<circle cx="988.6" cy="2251.7" r="6.55"/>
<circle cx="990.7" cy="2279.0" r="6.55"/>
<circle cx="992.6" cy="2244.3" r="6.55"/>
<circle cx="994.3" cy="2290.6" r="6.55"/>
<circle cx="996.4" cy="2314.2" r="6.55"/>
<circle cx="997.9" cy="2262.2" r="6.55"/>
<circle cx="999.5" cy="2265.4" r="6.55"/>
<circle cx="1001.6" cy="2273.8" r="6.55"/>
<circle cx="1003.8" cy="2247.4" r="6.55"/>
<circle cx="1005.4" cy="2324.3" r="6.55"/>
<circle cx="1007.3" cy="2326.4" r="6.55"/>
<circle cx="1009.0" cy="2306.0" r="6.55"/>
<circle cx="1011.1" cy="2339.1" r="6.55"/>
<circle cx="1012.8" cy="2347.5" r="6.55"/>
<circle cx="1014.7" cy="2309.6" r="6.55"/>
<circle cx="1016.4" cy="2358.0" r="6.55"/>
<circle cx="1018.1" cy="2314.9" r="6.55"/>
<circle cx="1020.0" cy="2311.7" r="6.55"/>
<circle cx="1021.7" cy="2299.1" r="6.55"/>
<circle cx="1023.8" cy="2295.9" r="6.55"/>
<circle cx="1025.5" cy="2351.7" r="6.55"/>
<circle cx="1027.4" cy="2342.2" r="6.55"/>
<circle cx="1029.7" cy="2369.2" r="6.55"/>
<circle cx="1031.6" cy="2300.1" r="6.55"/>
<circle cx="1033.2" cy="2271.3" r="6.55"/>
<circle cx="1034.9" cy="2262.8" r="6.55"/>
<circle cx="1036.8" cy="2281.8" r="6.55"/>
<circle cx="1038.5" cy="2298.6" r="6.55"/>
<circle cx="1040.2" cy="2260.1" r="6.55"/>
<circle cx="1042.3" cy="2254.2" r="6.55"/>
<circle cx="1044.2" cy="2311.7" r="6.55"/>
<circle cx="1045.9" cy="2334.9" r="6.55"/>
<circle cx="1047.6" cy="2308.5" r="6.55"/>
<circle cx="1049.5" cy="2355.5" r="6.55"/>
<circle cx="1051.2" cy="2368.6" r="6.55"/>
<circle cx="1053.3" cy="2412.8" r="6.55"/>
<circle cx="1055.4" cy="2372.4" r="6.55"/>
<circle cx="1057.5" cy="2284.3" r="6.55"/>
<circle cx="1059.2" cy="2328.1" r="6.55"/>
<circle cx="1061.1" cy="2354.5" r="6.55"/>
<circle cx="1063.2" cy="2358.0" r="6.55"/>
<circle cx="1064.8" cy="2318.0" r="6.55"/>
<circle cx="1066.5" cy="2299.1" r="6.55"/>
<circle cx="1068.6" cy="2310.6" r="6.55"/>
<circle cx="1070.5" cy="2306.4" r="6.55"/>
<circle cx="1072.2" cy="2261.8" r="6.55"/>
<circle cx="1073.9" cy="2241.8" r="6.55"/>
<circle cx="1075.8" cy="2195.2" r="6.55"/>
<circle cx="1077.5" cy="2216.9" r="6.55"/>
<circle cx="1079.2" cy="2210.6" r="6.55"/>
<circle cx="1081.1" cy="2224.3" r="6.55"/>
<circle cx="1082.8" cy="2234.8" r="6.55"/>
<circle cx="1084.4" cy="2267.5" r="6.55"/>
<circle cx="1086.5" cy="2265.4" r="6.55"/>
<circle cx="1088.4" cy="2273.8" r="6.55"/>
<circle cx="1090.1" cy="2275.9" r="6.55"/>
<circle cx="1092.2" cy="2290.6" r="6.55"/>
<circle cx="1093.9" cy="2313.8" r="6.55"/>
<circle cx="1095.8" cy="2331.7" r="6.55"/>
<circle cx="1097.5" cy="2324.3" r="6.55"/>
<circle cx="1099.2" cy="2297.6" r="6.55"/>
<circle cx="1101.3" cy="2266.4" r="6.55"/>
<circle cx="1103.2" cy="2212.1" r="6.55"/>
<circle cx="1104.9" cy="2242.8" r="6.55"/>
<circle cx="1107.0" cy="2256.9" r="6.55"/>
<circle cx="1108.7" cy="2244.3" r="6.55"/>
<circle cx="1110.6" cy="2265.4" r="6.55"/>
<circle cx="1112.7" cy="2215.2" r="6.55"/>
<circle cx="1114.4" cy="2372.4" r="6.55"/>
<circle cx="1116.5" cy="2136.9" r="6.55"/>
<circle cx="1118.1" cy="2272.7" r="6.55"/>
<circle cx="1120.3" cy="2292.3" r="6.55"/>
<circle cx="1121.7" cy="2267.5" r="6.55"/>
<circle cx="1123.4" cy="2312.8" r="6.55"/>
<circle cx="1125.5" cy="2261.8" r="6.55"/>
<circle cx="1127.4" cy="2327.5" r="6.55"/>
<circle cx="1129.1" cy="2320.1" r="6.55"/>
<circle cx="1131.2" cy="2250.2" r="6.55"/>
<circle cx="1132.9" cy="2283.9" r="6.55"/>
<circle cx="1134.8" cy="2296.5" r="6.55"/>
<circle cx="1136.9" cy="2271.7" r="6.55"/>
<circle cx="1138.6" cy="2222.6" r="6.55"/>
<circle cx="1140.3" cy="2305.4" r="6.55"/>
<circle cx="1142.4" cy="2309.6" r="6.55"/>
<circle cx="1144.3" cy="2243.2" r="6.55"/>
<circle cx="1146.0" cy="2252.3" r="6.55"/>
<circle cx="1148.1" cy="2292.3" r="6.55"/>
<circle cx="1149.7" cy="2282.2" r="6.55"/>
<circle cx="1151.6" cy="2271.3" r="6.55"/>
<circle cx="1153.3" cy="2274.8" r="6.55"/>
<circle cx="1155.0" cy="2234.8" r="6.55"/>
<circle cx="1157.1" cy="2267.5" r="6.55"/>
<circle cx="1159.0" cy="2229.5" r="6.55"/>
<circle cx="1160.7" cy="2312.3" r="6.55"/>
<circle cx="1162.4" cy="2267.5" r="6.55"/>
<circle cx="1164.5" cy="2278.0" r="6.55"/>
<circle cx="1166.4" cy="2256.5" r="6.55"/>
<circle cx="1168.1" cy="2275.9" r="6.55"/>
<circle cx="1170.2" cy="2305.0" r="6.55"/>
<circle cx="1171.9" cy="2358.5" r="6.55"/>
<circle cx="1173.8" cy="2318.4" r="6.55"/>
<circle cx="1175.4" cy="2293.2" r="6.55"/>
<circle cx="1177.6" cy="2270.0" r="6.55"/>
<circle cx="1179.2" cy="2245.3" r="6.55"/>
<circle cx="1181.1" cy="2253.8" r="6.55"/>
<circle cx="1182.8" cy="2240.1" r="6.55"/>
<circle cx="1184.9" cy="2233.8" r="6.55"/>
<circle cx="1186.6" cy="2243.2" r="6.55"/>
<circle cx="1188.5" cy="2300.7" r="6.55"/>
<circle cx="1190.2" cy="2306.4" r="6.55"/>
<circle cx="1192.3" cy="2329.6" r="6.55"/>
<circle cx="1194.0" cy="2299.1" r="6.55"/>
<circle cx="1195.9" cy="2282.2" r="6.55"/>
<circle cx="1197.6" cy="2293.8" r="6.55"/>
<circle cx="1199.2" cy="2300.1" r="6.55"/>
<circle cx="1201.4" cy="2297.0" r="6.55"/>
<circle cx="1203.3" cy="2322.9" r="6.55"/>
<circle cx="1204.9" cy="2305.4" r="6.55"/>
<circle cx="1207.0" cy="2293.2" r="6.55"/>
<circle cx="1208.7" cy="2385.9" r="6.55"/>
<circle cx="1210.6" cy="2317.0" r="6.55"/>
<circle cx="1212.3" cy="2323.3" r="6.55"/>
<circle cx="1214.4" cy="2317.0" r="6.55"/>
<circle cx="1216.1" cy="2309.6" r="6.55"/>
<circle cx="1218.0" cy="2321.8" r="6.55"/>
<circle cx="1219.7" cy="2330.7" r="6.55"/>
<circle cx="1221.4" cy="2310.6" r="6.55"/>
<circle cx="1224.1" cy="2263.2" r="6.55"/>
<circle cx="1225.8" cy="2286.4" r="6.55"/>
<circle cx="1228.3" cy="2320.1" r="6.55"/>
<circle cx="1230.4" cy="2291.7" r="6.55"/>
<circle cx="1232.1" cy="2287.5" r="6.55"/>
<circle cx="1233.6" cy="2249.1" r="6.55"/>
<circle cx="1235.7" cy="2273.4" r="6.55"/>
<circle cx="1237.4" cy="2283.3" r="6.55"/>
<circle cx="1239.3" cy="2269.6" r="6.55"/>
<circle cx="1241.4" cy="2252.7" r="6.55"/>
<circle cx="1243.1" cy="2273.8" r="6.55"/>
<circle cx="1244.8" cy="2251.7" r="6.55"/>
<circle cx="1246.9" cy="2290.6" r="6.55"/>
<circle cx="1248.8" cy="2270.6" r="6.55"/>
<circle cx="1250.4" cy="2293.8" r="6.55"/>
<circle cx="1252.1" cy="2288.1" r="6.55"/>
<circle cx="1254.2" cy="2288.5" r="6.55"/>
<circle cx="1256.1" cy="2290.6" r="6.55"/>
<circle cx="1257.2" cy="2321.2" r="6.55"/>
<circle cx="1258.9" cy="2292.7" r="6.55"/>
<circle cx="1261.0" cy="2269.6" r="6.55"/>
<circle cx="1262.7" cy="2303.9" r="6.55"/>
<circle cx="1264.6" cy="2266.4" r="6.55"/>
<circle cx="1266.2" cy="2271.7" r="6.55"/>
<circle cx="1267.9" cy="2247.9" r="6.55"/>
<circle cx="1270.0" cy="2275.5" r="6.55"/>
<circle cx="1271.9" cy="2263.9" r="6.55"/>
<circle cx="1273.6" cy="2241.1" r="6.55"/>
<circle cx="1275.3" cy="2234.8" r="6.55"/>
<circle cx="1277.2" cy="2208.9" r="6.55"/>
<circle cx="1278.9" cy="2227.9" r="6.55"/>
<circle cx="1281.0" cy="2295.3" r="6.55"/>
<circle cx="1282.7" cy="2247.4" r="6.55"/>
<circle cx="1284.6" cy="2261.1" r="6.55"/>
<circle cx="1286.7" cy="2276.9" r="6.55"/>
<circle cx="1288.4" cy="2245.3" r="6.55"/>
<circle cx="1290.0" cy="2243.2" r="6.55"/>
<circle cx="1291.9" cy="2219.4" r="6.55"/>
<circle cx="1294.0" cy="2260.7" r="6.55"/>
<circle cx="1295.7" cy="2265.4" r="6.55"/>
<circle cx="1297.4" cy="2233.8" r="6.55"/>
<circle cx="1299.3" cy="2220.5" r="6.55"/>
<circle cx="1301.0" cy="2225.3" r="6.55"/>
<circle cx="1303.1" cy="2247.9" r="6.55"/>
<circle cx="1304.8" cy="2275.5" r="6.55"/>
<circle cx="1306.9" cy="2228.1" r="6.55"/>
<circle cx="1308.8" cy="2276.9" r="6.55"/>
<circle cx="1310.5" cy="2252.7" r="6.55"/>
<circle cx="1312.2" cy="2247.0" r="6.55"/>
<circle cx="1314.1" cy="2299.1" r="6.55"/>
<circle cx="1315.7" cy="2266.4" r="6.55"/>
<circle cx="1317.9" cy="2246.8" r="6.55"/>
<circle cx="1319.5" cy="2261.1" r="6.55"/>
<circle cx="1321.4" cy="2271.7" r="6.55"/>
<circle cx="1323.1" cy="2290.0" r="6.55"/>
<circle cx="1325.2" cy="2329.6" r="6.55"/>
<circle cx="1326.9" cy="2315.9" r="6.55"/>
<circle cx="1328.8" cy="2343.3" r="6.55"/>
<circle cx="1330.9" cy="2331.7" r="6.55"/>
<circle cx="1332.6" cy="2325.4" r="6.55"/>
<circle cx="1334.7" cy="2348.1" r="6.55"/>
<circle cx="1336.4" cy="2281.6" r="6.55"/>
<circle cx="1338.5" cy="2334.9" r="6.55"/>
<circle cx="1340.4" cy="2311.7" r="6.55"/>
<circle cx="1342.1" cy="2317.0" r="6.55"/>
<circle cx="1343.8" cy="2323.3" r="6.55"/>
<circle cx="1345.7" cy="2303.3" r="6.55"/>
<circle cx="1347.3" cy="2308.5" r="6.55"/>
<circle cx="1349.0" cy="2264.3" r="6.55"/>
<circle cx="1351.1" cy="2329.2" r="6.55"/>
<circle cx="1353.0" cy="2308.5" r="6.55"/>
<circle cx="1354.7" cy="2282.6" r="6.55"/>
<circle cx="1356.8" cy="2296.5" r="6.55"/>
<circle cx="1358.5" cy="2309.6" r="6.55"/>
<circle cx="1360.4" cy="2244.3" r="6.55"/>
<circle cx="1362.1" cy="2250.6" r="6.55"/>
<circle cx="1364.2" cy="2284.9" r="6.55"/>
<circle cx="1365.9" cy="2260.1" r="6.55"/>
<circle cx="1367.8" cy="2247.4" r="6.55"/>
<circle cx="1369.5" cy="2259.0" r="6.55"/>
<circle cx="1371.1" cy="2238.0" r="6.55"/>
<circle cx="1373.3" cy="2226.4" r="6.55"/>
<circle cx="1375.1" cy="2203.6" r="6.55"/>
<circle cx="1376.8" cy="2240.1" r="6.55"/>
<circle cx="1378.5" cy="2261.6" r="6.55"/>
<circle cx="1380.4" cy="2255.9" r="6.55"/>
<circle cx="1382.1" cy="2254.8" r="6.55"/>
<circle cx="1384.2" cy="2253.1" r="6.55"/>
<circle cx="1385.9" cy="2237.5" r="6.55"/>
<circle cx="1387.8" cy="2230.2" r="6.55"/>
<circle cx="1389.9" cy="2279.0" r="6.55"/>
<circle cx="1391.6" cy="2330.7" r="6.55"/>
<circle cx="1393.7" cy="2318.7" r="6.55"/>
<circle cx="1395.4" cy="2342.9" r="6.55"/>
<circle cx="1397.5" cy="2329.6" r="6.55"/>
<circle cx="1399.0" cy="2266.4" r="6.55"/>
<circle cx="1401.1" cy="2363.9" r="6.55"/>
<circle cx="1402.7" cy="2279.5" r="6.55"/>
<circle cx="1404.6" cy="2260.1" r="6.55"/>
<circle cx="1406.3" cy="2288.5" r="6.55"/>
<circle cx="1408.4" cy="2277.4" r="6.55"/>
<circle cx="1410.1" cy="2229.5" r="6.55"/>
<circle cx="1412.0" cy="2282.2" r="6.55"/>
<circle cx="1413.7" cy="2290.6" r="6.55"/>
<circle cx="1415.8" cy="2209.5" r="6.55"/>
<circle cx="1417.5" cy="2272.1" r="6.55"/>
<circle cx="1419.4" cy="2295.3" r="6.55"/>
<circle cx="1421.1" cy="2306.0" r="6.55"/>
<circle cx="1423.2" cy="2287.5" r="6.55"/>
<circle cx="1424.9" cy="2244.9" r="6.55"/>
<circle cx="1426.8" cy="2253.1" r="6.55"/>
<circle cx="1428.4" cy="2251.7" r="6.55"/>
<circle cx="1430.6" cy="2188.9" r="6.55"/>
<circle cx="1432.2" cy="2208.1" r="6.55"/>
<circle cx="1434.3" cy="2234.8" r="6.55"/>
<circle cx="1436.2" cy="2189.9" r="6.55"/>
<circle cx="1437.9" cy="2174.1" r="6.55"/>
<circle cx="1454.4" cy="2163.8" r="6.55"/>
<circle cx="1465.7" cy="2162.6" r="6.55"/>
<circle cx="1498.6" cy="2165.3" r="6.55"/>
<circle cx="1521.1" cy="2131.2" r="6.55"/>
<circle cx="1522.8" cy="2172.7" r="6.55"/>
<circle cx="1524.7" cy="2212.1" r="6.55"/>
<circle cx="1526.4" cy="2186.8" r="6.55"/>
<circle cx="1528.1" cy="2146.3" r="6.55"/>
<circle cx="1530.0" cy="2199.6" r="6.55"/>
<circle cx="1532.1" cy="2164.2" r="6.55"/>
<circle cx="1533.8" cy="2197.9" r="6.55"/>
<circle cx="1535.9" cy="2171.6" r="6.55"/>
<circle cx="1537.6" cy="2185.3" r="6.55"/>
<circle cx="1539.5" cy="2214.2" r="6.55"/>
<circle cx="1541.1" cy="2185.3" r="6.55"/>
<circle cx="1542.8" cy="2222.6" r="6.55"/>
<circle cx="1544.9" cy="2176.5" r="6.55"/>
<circle cx="1546.8" cy="2198.4" r="6.55"/>
<circle cx="1548.5" cy="2227.4" r="6.55"/>
<circle cx="1550.2" cy="2191.6" r="6.55"/>
<circle cx="1552.1" cy="2233.8" r="6.55"/>
<circle cx="1553.8" cy="2220.1" r="6.55"/>
<circle cx="1558.0" cy="2300.7" r="6.55"/>
<circle cx="1486.0" cy="1823.2" r="6.55"/>
<circle cx="1508.1" cy="1856.3" r="6.55"/>
<circle cx="1472.3" cy="1953.6" r="6.55"/>
<circle cx="1477.5" cy="1952.6" r="6.55"/>
<circle cx="1483.9" cy="1956.4" r="6.55"/>
<circle cx="1490.2" cy="1950.0" r="6.55"/>
<circle cx="1494.0" cy="1951.1" r="6.55"/>
<circle cx="1478.6" cy="1967.3" r="6.55"/>
<circle cx="1470.8" cy="1971.5" r="6.55"/>
<circle cx="1509.8" cy="1975.7" r="6.55"/>
<circle cx="1487.6" cy="1989.0" r="6.55"/>
<circle cx="1474.8" cy="1996.0" r="6.55"/>
<circle cx="1491.2" cy="1999.5" r="6.55"/>
<circle cx="1506.4" cy="2001.0" r="6.55"/>
<circle cx="1480.3" cy="2008.0" r="6.55"/>
<circle cx="1515.4" cy="2019.6" r="6.55"/>
<circle cx="1503.9" cy="2023.3" r="6.55"/>
<circle cx="1514.0" cy="2025.5" r="6.55"/>
<circle cx="1469.5" cy="2042.1" r="6.55"/>
<circle cx="1444.9" cy="2059.6" r="6.55"/>
<circle cx="1450.8" cy="2056.4" r="6.55"/>
<circle cx="1452.9" cy="2061.3" r="6.55"/>
<circle cx="1502.4" cy="2058.1" r="6.55"/>
<circle cx="1511.9" cy="2058.5" r="6.55"/>
<circle cx="1467.6" cy="2069.1" r="6.55"/>
<circle cx="1460.3" cy="2076.9" r="6.55"/>
<circle cx="1447.6" cy="2080.2" r="6.55"/>
<circle cx="1517.1" cy="2084.2" r="6.55"/>
<circle cx="1519.7" cy="2087.6" r="6.55"/>
<circle cx="1456.5" cy="2090.8" r="6.55"/>
<circle cx="1439.6" cy="2092.9" r="6.55"/>
<circle cx="1443.8" cy="2093.7" r="6.55"/>
<circle cx="1441.7" cy="2106.6" r="6.55"/>
<circle cx="1500.3" cy="2104.9" r="6.55"/>
<circle cx="1495.4" cy="2108.0" r="6.55"/>
<circle cx="1463.8" cy="2112.2" r="6.55"/>
<circle cx="1458.1" cy="2116.0" r="6.55"/>
<circle cx="1461.7" cy="2119.0" r="6.55"/>
<circle cx="1557.2" cy="2203.2" r="6.55"/>
<circle cx="1559.3" cy="2212.7" r="6.55"/>
<circle cx="1556.1" cy="2219.0" r="6.55"/>
<circle cx="1563.5" cy="2133.7" r="6.55"/>
<circle cx="1565.2" cy="2160.0" r="6.55"/>
<circle cx="1567.1" cy="2192.7" r="6.55"/>
<circle cx="1568.7" cy="2184.3" r="6.55"/>
<circle cx="1570.9" cy="2172.7" r="6.55"/>
<circle cx="1573.0" cy="2134.7" r="6.55"/>
<circle cx="1575.1" cy="2141.7" r="6.55"/>
<circle cx="1576.8" cy="2192.3" r="6.55"/>
<circle cx="1578.9" cy="2213.7" r="6.55"/>
<circle cx="1580.8" cy="2219.6" r="6.55"/>
<circle cx="1582.4" cy="2212.7" r="6.55"/>
<circle cx="1585.2" cy="2204.7" r="6.55"/>
<circle cx="1587.3" cy="2259.5" r="6.55"/>
<circle cx="1589.2" cy="2270.2" r="6.55"/>
<circle cx="1591.3" cy="2202.2" r="6.55"/>
<circle cx="1593.0" cy="2313.8" r="6.55"/>
<circle cx="1594.7" cy="2234.8" r="6.55"/>
<circle cx="1596.8" cy="2176.9" r="6.55"/>
<circle cx="1598.2" cy="2253.3" r="6.55"/>
<circle cx="1600.3" cy="2208.5" r="6.55"/>
<circle cx="1602.0" cy="2270.0" r="6.55"/>
<circle cx="1603.9" cy="2222.8" r="6.55"/>
<circle cx="1605.6" cy="2226.4" r="6.55"/>
<circle cx="1607.7" cy="2252.7" r="6.55"/>
<circle cx="1609.4" cy="2271.7" r="6.55"/>
<circle cx="1611.3" cy="2231.6" r="6.55"/>
<circle cx="1613.4" cy="2211.6" r="6.55"/>
<circle cx="1615.1" cy="2282.2" r="6.55"/>
<circle cx="1616.8" cy="2218.0" r="6.55"/>
<circle cx="1618.9" cy="2224.3" r="6.55"/>
<circle cx="1620.8" cy="2315.9" r="6.55"/>
<circle cx="1622.5" cy="2283.3" r="6.55"/>
<circle cx="1624.6" cy="2328.6" r="6.55"/>
<circle cx="1626.3" cy="2371.7" r="6.55"/>
<circle cx="1628.2" cy="2302.2" r="6.55"/>
<circle cx="1629.8" cy="2312.8" r="6.55"/>
<circle cx="1631.5" cy="2225.3" r="6.55"/>
<circle cx="1633.6" cy="2271.3" r="6.55"/>
<circle cx="1635.5" cy="2199.4" r="6.55"/>
<circle cx="1637.6" cy="2218.6" r="6.55"/>
<circle cx="1639.3" cy="2242.2" r="6.55"/>
<circle cx="1641.0" cy="2246.4" r="6.55"/>
<circle cx="1642.9" cy="2261.8" r="6.55"/>
<circle cx="1644.6" cy="2242.6" r="6.55"/>
<circle cx="1646.3" cy="2285.8" r="6.55"/>
<circle cx="1648.4" cy="2274.8" r="6.55"/>
<circle cx="1650.3" cy="2328.1" r="6.55"/>
<circle cx="1652.0" cy="2393.2" r="6.55"/>
<circle cx="1654.1" cy="2436.0" r="6.55"/>
<circle cx="1655.7" cy="2413.4" r="6.55"/>
<circle cx="1657.2" cy="2406.5" r="6.55"/>
<circle cx="1661.4" cy="2391.8" r="6.55"/>
<circle cx="1663.1" cy="2377.4" r="6.55"/>
<circle cx="1665.0" cy="2338.0" r="6.55"/>
<circle cx="1667.8" cy="2399.5" r="6.55"/>
<circle cx="1668.8" cy="2299.7" r="6.55"/>
<circle cx="1670.5" cy="2288.5" r="6.55"/>
<circle cx="1672.6" cy="2294.8" r="6.55"/>
<circle cx="1674.5" cy="2278.6" r="6.55"/>
<circle cx="1676.2" cy="2220.5" r="6.55"/>
<circle cx="1678.3" cy="2337.0" r="6.55"/>
<circle cx="1680.0" cy="2336.6" r="6.55"/>
<circle cx="1681.4" cy="2310.6" r="6.55"/>
<circle cx="1683.6" cy="2313.8" r="6.55"/>
<circle cx="1685.2" cy="2252.7" r="6.55"/>
<circle cx="1687.1" cy="2228.5" r="6.55"/>
<circle cx="1688.8" cy="2192.3" r="6.55"/>
<circle cx="1690.9" cy="2266.8" r="6.55"/>
<circle cx="1692.6" cy="2219.6" r="6.55"/>
<circle cx="1694.5" cy="2253.1" r="6.55"/>
<circle cx="1696.6" cy="2238.4" r="6.55"/>
<circle cx="1698.3" cy="2208.5" r="6.55"/>
<circle cx="1700.0" cy="2156.4" r="6.55"/>
<circle cx="1702.1" cy="2211.6" r="6.55"/>
<circle cx="1704.0" cy="2294.4" r="6.55"/>
<circle cx="1705.7" cy="2210.2" r="6.55"/>
<circle cx="1707.4" cy="2249.6" r="6.55"/>
<circle cx="1709.5" cy="2154.8" r="6.55"/>
<circle cx="1711.4" cy="2205.3" r="6.55"/>
<circle cx="1713.0" cy="2203.6" r="6.55"/>
<circle cx="1715.2" cy="2249.1" r="6.55"/>
<circle cx="1716.8" cy="2188.9" r="6.55"/>
<circle cx="1718.7" cy="2205.3" r="6.55"/>
<circle cx="1720.4" cy="2234.8" r="6.55"/>
<circle cx="1722.1" cy="2259.0" r="6.55"/>
<circle cx="1724.2" cy="2276.3" r="6.55"/>
<circle cx="1726.1" cy="2262.2" r="6.55"/>
<circle cx="1727.8" cy="2250.6" r="6.55"/>
<circle cx="1729.5" cy="2221.7" r="6.55"/>
<circle cx="1731.6" cy="2244.3" r="6.55"/>
<circle cx="1733.5" cy="2248.5" r="6.55"/>
<circle cx="1735.2" cy="2182.8" r="6.55"/>
<circle cx="1736.9" cy="2192.7" r="6.55"/>
<circle cx="1739.0" cy="2246.4" r="6.55"/>
<circle cx="1740.9" cy="2227.9" r="6.55"/>
<circle cx="1742.5" cy="2245.3" r="6.55"/>
<circle cx="1744.6" cy="2243.7" r="6.55"/>
<circle cx="1746.3" cy="2270.6" r="6.55"/>
<circle cx="1748.2" cy="2318.0" r="6.55"/>
<circle cx="1749.9" cy="2266.4" r="6.55"/>
<circle cx="1751.6" cy="2305.8" r="6.55"/>
<circle cx="1753.5" cy="2281.2" r="6.55"/>
<circle cx="1755.6" cy="2293.8" r="6.55"/>
<circle cx="1757.3" cy="2253.8" r="6.55"/>
<circle cx="1759.0" cy="2275.9" r="6.55"/>
<circle cx="1760.9" cy="2268.5" r="6.55"/>
<circle cx="1763.0" cy="2245.3" r="6.55"/>
<circle cx="1764.7" cy="2264.3" r="6.55"/>
<circle cx="1766.3" cy="2234.4" r="6.55"/>
<circle cx="1768.5" cy="2268.9" r="6.55"/>
<circle cx="1770.3" cy="2287.5" r="6.55"/>
<circle cx="1772.0" cy="2217.3" r="6.55"/>
<circle cx="1773.7" cy="2304.7" r="6.55"/>
<circle cx="1775.8" cy="2331.1" r="6.55"/>
<circle cx="1777.7" cy="2173.3" r="6.55"/>
<circle cx="1779.8" cy="2304.7" r="6.55"/>
<circle cx="1781.5" cy="2259.0" r="6.55"/>
<circle cx="1783.2" cy="2247.4" r="6.55"/>
<circle cx="1785.3" cy="2287.1" r="6.55"/>
<circle cx="1787.2" cy="2245.3" r="6.55"/>
<circle cx="1788.9" cy="2197.9" r="6.55"/>
<circle cx="1790.6" cy="2234.2" r="6.55"/>
<circle cx="1792.7" cy="2177.5" r="6.55"/>
<circle cx="1794.6" cy="2160.7" r="6.55"/>
<circle cx="1796.3" cy="2185.9" r="6.55"/>
<circle cx="1797.9" cy="2202.2" r="6.55"/>
<circle cx="1799.8" cy="2226.8" r="6.55"/>
<circle cx="1801.5" cy="2203.2" r="6.55"/>
<circle cx="1803.6" cy="2223.2" r="6.55"/>
<circle cx="1805.3" cy="2182.1" r="6.55"/>
<circle cx="1807.2" cy="2158.6" r="6.55"/>
<circle cx="1809.3" cy="2212.1" r="6.55"/>
<circle cx="1811.0" cy="2266.0" r="6.55"/>
<circle cx="1812.7" cy="2242.8" r="6.55"/>
<circle cx="1814.8" cy="2223.2" r="6.55"/>
<circle cx="1816.7" cy="2262.2" r="6.55"/>
<circle cx="1818.4" cy="2275.9" r="6.55"/>
<circle cx="1820.1" cy="2265.4" r="6.55"/>
<circle cx="1822.0" cy="2254.2" r="6.55"/>
<circle cx="1824.1" cy="2260.1" r="6.55"/>
<circle cx="1825.8" cy="2287.9" r="6.55"/>
<circle cx="1827.4" cy="2264.7" r="6.55"/>
<circle cx="1829.5" cy="2302.2" r="6.55"/>
<circle cx="1831.4" cy="2292.7" r="6.55"/>
<circle cx="1833.1" cy="2334.9" r="6.55"/>
<circle cx="1834.8" cy="2355.3" r="6.55"/>
<circle cx="1836.7" cy="2288.5" r="6.55"/>
<circle cx="1838.8" cy="2346.5" r="6.55"/>
<circle cx="1840.5" cy="2324.3" r="6.55"/>
<circle cx="1842.2" cy="2358.0" r="6.55"/>
<circle cx="1844.1" cy="2324.8" r="6.55"/>
<circle cx="1846.2" cy="2360.2" r="6.55"/>
<circle cx="1848.3" cy="2336.3" r="6.55"/>
<circle cx="1850.0" cy="2363.7" r="6.55"/>
<circle cx="1851.7" cy="2350.0" r="6.55"/>
</g>
<g stroke="#000" stroke-width="2.67" stroke-linecap="butt">
<path d="M257.90 1811.0V1791.80M257.90 2448.75V2467.95"/>
<path d="M302.22 1811.0V1801.20M302.22 2448.75V2458.55"/>
<path d="M346.54 1811.0V1801.20M346.54 2448.75V2458.55"/>
<path d="M390.87 1811.0V1791.80M390.87 2448.75V2467.95"/>
<path d="M435.19 1811.0V1801.20M435.19 2448.75V2458.55"/>
<path d="M479.51 1811.0V1801.20M479.51 2448.75V2458.55"/>
<path d="M523.83 1811.0V1791.80M523.83 2448.75V2467.95"/>
<path d="M568.15 1811.0V1801.20M568.15 2448.75V2458.55"/>
<path d="M612.48 1811.0V1801.20M612.48 2448.75V2458.55"/>
<path d="M656.80 1811.0V1791.80M656.80 2448.75V2467.95"/>
<path d="M701.12 1811.0V1801.20M701.12 2448.75V2458.55"/>
<path d="M745.44 1811.0V1801.20M745.44 2448.75V2458.55"/>
<path d="M789.76 1811.0V1791.80M789.76 2448.75V2467.95"/>
<path d="M834.09 1811.0V1801.20M834.09 2448.75V2458.55"/>
<path d="M878.41 1811.0V1801.20M878.41 2448.75V2458.55"/>
<path d="M922.73 1811.0V1791.80M922.73 2448.75V2467.95"/>
<path d="M967.05 1811.0V1801.20M967.05 2448.75V2458.55"/>
<path d="M1011.37 1811.0V1801.20M1011.37 2448.75V2458.55"/>
<path d="M1055.70 1811.0V1791.80M1055.70 2448.75V2467.95"/>
<path d="M1100.02 1811.0V1801.20M1100.02 2448.75V2458.55"/>
<path d="M1144.34 1811.0V1801.20M1144.34 2448.75V2458.55"/>
<path d="M1188.66 1811.0V1791.80M1188.66 2448.75V2467.95"/>
<path d="M1232.98 1811.0V1801.20M1232.98 2448.75V2458.55"/>
<path d="M1277.31 1811.0V1801.20M1277.31 2448.75V2458.55"/>
<path d="M1321.63 1811.0V1791.80M1321.63 2448.75V2467.95"/>
<path d="M1365.95 1811.0V1801.20M1365.95 2448.75V2458.55"/>
<path d="M1410.27 1811.0V1801.20M1410.27 2448.75V2458.55"/>
<path d="M1454.59 1811.0V1791.80M1454.59 2448.75V2467.95"/>
<path d="M1498.92 1811.0V1801.20M1498.92 2448.75V2458.55"/>
<path d="M1543.24 1811.0V1801.20M1543.24 2448.75V2458.55"/>
<path d="M1587.56 1811.0V1791.80M1587.56 2448.75V2467.95"/>
<path d="M1631.88 1811.0V1801.20M1631.88 2448.75V2458.55"/>
<path d="M1676.20 1811.0V1801.20M1676.20 2448.75V2458.55"/>
<path d="M1720.53 1811.0V1791.80M1720.53 2448.75V2467.95"/>
<path d="M1764.85 1811.0V1801.20M1764.85 2448.75V2458.55"/>
<path d="M1809.17 1811.0V1801.20M1809.17 2448.75V2458.55"/>
<path d="M1853.49 1811.0V1791.80M1853.49 2448.75V2467.95"/>
<path d="M226.0 1886.63H206.80M1883.5 1886.63H1902.70"/>
<path d="M226.0 2023.85H206.80M1883.5 2023.85H1902.70"/>
<path d="M226.0 2161.08H206.80M1883.5 2161.08H1902.70"/>
<path d="M226.0 2298.30H206.80M1883.5 2298.30H1902.70"/>
<path d="M226.0 2435.53H206.80M1883.5 2435.53H1902.70"/>
</g>
<rect x="226.0" y="1811.0" width="1657.5" height="637.75" fill="none" stroke="#000" stroke-width="5.9"/>
<text class="b" font-size="42.67" text-anchor="middle" transform="translate(257.9 2514.9) scale(1 1.05)">0</text>
<text class="b" font-size="42.67" text-anchor="middle" transform="translate(390.9 2514.9) scale(1 1.05)">6</text>
<text class="b" font-size="42.67" text-anchor="middle" transform="translate(523.8 2514.9) scale(1 1.05)">12</text>
<text class="b" font-size="42.67" text-anchor="middle" transform="translate(656.8 2514.9) scale(1 1.05)">18</text>
<text class="b" font-size="42.67" text-anchor="middle" transform="translate(789.8 2514.9) scale(1 1.05)">24</text>
<text class="b" font-size="42.67" text-anchor="middle" transform="translate(922.7 2514.9) scale(1 1.05)">30</text>
<text class="b" font-size="42.67" text-anchor="middle" transform="translate(1055.7 2514.9) scale(1 1.05)">36</text>
<text class="b" font-size="42.67" text-anchor="middle" transform="translate(1188.7 2514.9) scale(1 1.05)">42</text>
<text class="b" font-size="42.67" text-anchor="middle" transform="translate(1321.6 2514.9) scale(1 1.05)">48</text>
<text class="b" font-size="42.67" text-anchor="middle" transform="translate(1454.6 2514.9) scale(1 1.05)">54</text>
<text class="b" font-size="42.67" text-anchor="middle" transform="translate(1587.6 2514.9) scale(1 1.05)">60</text>
<text class="b" font-size="42.67" text-anchor="middle" transform="translate(1720.5 2514.9) scale(1 1.05)">66</text>
<text class="b" font-size="42.67" text-anchor="middle" transform="translate(1853.5 2514.9) scale(1 1.05)">72</text>
<text class="b" font-size="42.67" text-anchor="end" transform="translate(190.3 1901.9) scale(1 1.05)">150</text>
<text class="b" font-size="42.67" text-anchor="end" transform="translate(190.3 2039.2) scale(1 1.05)">100</text>
<text class="b" font-size="42.67" text-anchor="end" transform="translate(190.3 2176.4) scale(1 1.05)">50</text>
<text class="b" font-size="42.67" text-anchor="end" transform="translate(190.3 2313.6) scale(1 1.05)">0</text>
<rect x="120.3" y="2438.47" width="21.6" height="5.1" fill="#000"/>
<text class="b" font-size="42.67" text-anchor="end" transform="translate(190.3 2450.8) scale(1 1.05)">50</text>
<text font-size="42.67" text-anchor="middle" transform="translate(89.9 2129.9) rotate(-90) scale(1 1.05)">Up (mm)</text>
<text transform="translate(1053.5 2573.9) scale(1 1.05)" font-size="42.67" text-anchor="middle" textLength="854.6" lengthAdjust="spacingAndGlyphs">Time (hours since beginning of first day UTC)</text>
<rect x="226.0" y="2678" width="1657.5" height="153" fill="none" stroke="#000" stroke-width="5.9"/>
<text class="b" transform="translate(1055.6 2716.7) scale(1 1.05)" font-size="42.67" text-anchor="middle" textLength="700.8" lengthAdjust="spacingAndGlyphs">Processed Using JPL Rapid Orbits</text>
<text class="b" transform="translate(1055.1 2757) scale(1 1.05)" font-size="42.67" text-anchor="middle" textLength="728.6" lengthAdjust="spacingAndGlyphs">by the Nevada Geodetic Laboratory.</text>
<text class="b" transform="translate(1054.8 2797.6) scale(1 1.05)" font-size="42.67" text-anchor="middle" textLength="474.4" lengthAdjust="spacingAndGlyphs">Plotted on 2026-Jan-10.</text>
</svg></body></html>
